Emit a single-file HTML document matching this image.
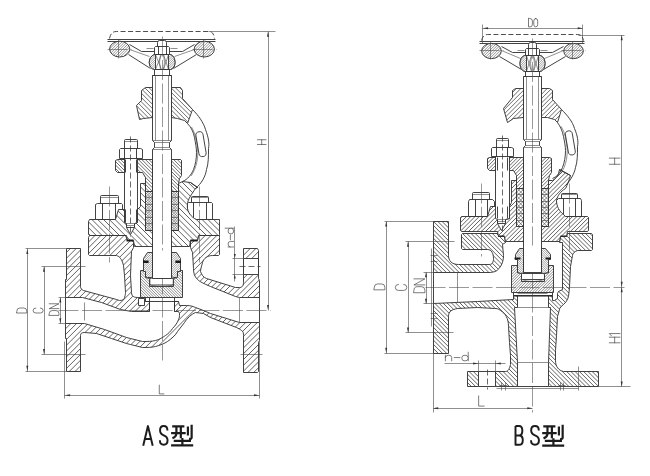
<!DOCTYPE html><html><head><meta charset="utf-8"><title>AS / BS valve drawing</title><style>
html,body{margin:0;padding:0;background:#fff;}
svg{display:block;font-family:"Liberation Sans",sans-serif;}
.l{fill:none;stroke:#2e2e2e;stroke-width:.9;stroke-linejoin:round;}
.lw{fill:#fff;stroke:#2e2e2e;stroke-width:.9;stroke-linejoin:round;}
.t{fill:none;stroke:#444;stroke-width:.6;}
.thk{fill:none;stroke:#2e2e2e;stroke-width:1.3;}
.c{fill:none;stroke:#444;stroke-width:.55;stroke-dasharray:20 3.5;}
.c2{fill:none;stroke:#3a3a3a;stroke-width:.75;stroke-dasharray:6 3;}
.d{fill:none;stroke:#444;stroke-width:.6;}
.ar{fill:#333;stroke:none;}
.dash{fill:none;stroke:#2e2e2e;stroke-width:.85;stroke-dasharray:5 2.5;}
.ha{fill:url(#pa);stroke:#2e2e2e;stroke-width:.85;stroke-linejoin:round;}
.hb{fill:url(#pb);stroke:#2e2e2e;stroke-width:.85;stroke-linejoin:round;}
.hga{fill:url(#pga);stroke:#2e2e2e;stroke-width:.85;stroke-linejoin:round;}
.hgb{fill:url(#pgb);stroke:#2e2e2e;stroke-width:.85;stroke-linejoin:round;}
.hma{fill:url(#pma);stroke:#2e2e2e;stroke-width:.85;stroke-linejoin:round;}
.hmb{fill:url(#pmb);stroke:#2e2e2e;stroke-width:.85;stroke-linejoin:round;}
.hx{fill:url(#px);stroke:#2e2e2e;stroke-width:.85;}
.hd{fill:url(#pd);stroke:#2e2e2e;stroke-width:.85;stroke-linejoin:round;}
.hd2{fill:url(#pd2);stroke:#2e2e2e;stroke-width:.85;stroke-linejoin:round;}
.blk{fill:#1a1a1a;stroke:none;}
.gt{fill:none;stroke:#444;stroke-width:.7;stroke-linejoin:round;stroke-linecap:round;}
.big{fill:none;stroke:#1c1c1c;stroke-width:1.95;stroke-linejoin:round;stroke-linecap:butt;}
.big2{fill:none;stroke:#1c1c1c;stroke-width:2.2;stroke-linejoin:round;stroke-linecap:butt;}
</style></head><body><svg width="650" height="476" viewBox="0 0 650 476"><defs><pattern id="pa" width="4" height="4" patternUnits="userSpaceOnUse" patternTransform="rotate(45)"><rect width="4" height="4" fill="#fff"/><line x1="0" y1="2.0" x2="4" y2="2.0" stroke="#383838" stroke-width="0.65"/></pattern><pattern id="pb" width="4" height="4" patternUnits="userSpaceOnUse" patternTransform="rotate(-45)"><rect width="4" height="4" fill="#fff"/><line x1="0" y1="2.0" x2="4" y2="2.0" stroke="#383838" stroke-width="0.65"/></pattern><pattern id="pga" width="2.6" height="2.6" patternUnits="userSpaceOnUse" patternTransform="rotate(45)"><rect width="2.6" height="2.6" fill="#fff"/><line x1="0" y1="1.3" x2="2.6" y2="1.3" stroke="#383838" stroke-width="0.65"/></pattern><pattern id="pgb" width="2.6" height="2.6" patternUnits="userSpaceOnUse" patternTransform="rotate(-45)"><rect width="2.6" height="2.6" fill="#fff"/><line x1="0" y1="1.3" x2="2.6" y2="1.3" stroke="#383838" stroke-width="0.65"/></pattern><pattern id="pma" width="1.9" height="1.9" patternUnits="userSpaceOnUse" patternTransform="rotate(45)"><rect width="1.9" height="1.9" fill="#fff"/><line x1="0" y1="0.95" x2="1.9" y2="0.95" stroke="#383838" stroke-width="0.55"/></pattern><pattern id="pmb" width="1.9" height="1.9" patternUnits="userSpaceOnUse" patternTransform="rotate(-45)"><rect width="1.9" height="1.9" fill="#fff"/><line x1="0" y1="0.95" x2="1.9" y2="0.95" stroke="#383838" stroke-width="0.55"/></pattern><pattern id="pd" width="1.5" height="1.5" patternUnits="userSpaceOnUse" patternTransform="rotate(45)"><rect width="1.5" height="1.5" fill="#fff"/><line x1="0" y1="0.75" x2="1.5" y2="0.75" stroke="#383838" stroke-width="0.5"/></pattern><pattern id="pd2" width="1.5" height="1.5" patternUnits="userSpaceOnUse" patternTransform="rotate(-45)"><rect width="1.5" height="1.5" fill="#fff"/><line x1="0" y1="0.75" x2="1.5" y2="0.75" stroke="#383838" stroke-width="0.5"/></pattern><pattern id="px" width="2.2" height="2.2" patternUnits="userSpaceOnUse" patternTransform="rotate(45)"><rect width="2.2" height="2.2" fill="#fff"/><path d="M0 1.1 L2.2 1.1 M1.1 0 L1.1 2.2" stroke="#333" stroke-width=".6"/></pattern></defs><rect width="650" height="476" fill="#fff"/><g id="left">
<clipPath id="c1"><path d="M 66.50 248.50 L 80.50 248.50 L 80.50 286.50 C 80.50 288.50 81.50 289.50 83.50 290.50 L 116.50 299.50 L 119.50 300.50 C 122.50 300.50 124.50 299.50 124.50 297.50 C 125.50 294.50 125.50 293.50 125.50 292.50 L 124.50 275.50 L 123.50 265.50 C 122.50 261.50 121.50 259.50 120.50 258.50 C 119.50 256.50 118.50 256.50 116.50 255.50 L 89.50 255.50 L 88.50 254.50 L 88.50 237.50 L 89.50 235.50 L 125.50 235.50 L 127.50 240.50 L 132.50 240.50 L 133.50 242.50 L 133.50 247.50 L 131.50 251.50 L 130.50 275.50 L 131.50 292.50 C 131.50 294.50 132.50 296.50 133.50 296.50 C 134.50 297.50 136.50 297.50 140.50 297.50 L 145.50 297.50 L 145.50 301.50 L 149.50 301.50 L 149.50 311.50 L 131.50 311.50 L 120.50 309.50 L 101.50 302.50 L 82.50 297.50 L 65.50 297.50 L 65.50 279.50 L 66.50 279.50 Z"/></clipPath><path d="M 66.50 248.50 L 80.50 248.50 L 80.50 286.50 C 80.50 288.50 81.50 289.50 83.50 290.50 L 116.50 299.50 L 119.50 300.50 C 122.50 300.50 124.50 299.50 124.50 297.50 C 125.50 294.50 125.50 293.50 125.50 292.50 L 124.50 275.50 L 123.50 265.50 C 122.50 261.50 121.50 259.50 120.50 258.50 C 119.50 256.50 118.50 256.50 116.50 255.50 L 89.50 255.50 L 88.50 254.50 L 88.50 237.50 L 89.50 235.50 L 125.50 235.50 L 127.50 240.50 L 132.50 240.50 L 133.50 242.50 L 133.50 247.50 L 131.50 251.50 L 130.50 275.50 L 131.50 292.50 C 131.50 294.50 132.50 296.50 133.50 296.50 C 134.50 297.50 136.50 297.50 140.50 297.50 L 145.50 297.50 L 145.50 301.50 L 149.50 301.50 L 149.50 311.50 L 131.50 311.50 L 120.50 309.50 L 101.50 302.50 L 82.50 297.50 L 65.50 297.50 L 65.50 279.50 L 66.50 279.50 Z" fill="#fff"/><path clip-path="url(#c1)" d="M64.5 231.2 L150.5 145.2 M64.5 237.0 L150.5 151.0 M64.5 242.8 L150.5 156.8 M64.5 248.6 L150.5 162.6 M64.5 254.4 L150.5 168.4 M64.5 260.2 L150.5 174.2 M64.5 266.0 L150.5 180.0 M64.5 271.8 L150.5 185.8 M64.5 277.6 L150.5 191.6 M64.5 283.4 L150.5 197.4 M64.5 289.2 L150.5 203.2 M64.5 295.0 L150.5 209.0 M64.5 300.8 L150.5 214.8 M64.5 306.6 L150.5 220.6 M64.5 312.4 L150.5 226.4 M64.5 318.2 L150.5 232.2 M64.5 324.0 L150.5 238.0 M64.5 329.8 L150.5 243.8 M64.5 335.6 L150.5 249.6 M64.5 341.4 L150.5 255.4 M64.5 347.2 L150.5 261.2 M64.5 353.0 L150.5 267.0 M64.5 358.8 L150.5 272.8 M64.5 364.6 L150.5 278.6 M64.5 370.4 L150.5 284.4 M64.5 376.2 L150.5 290.2 M64.5 382.0 L150.5 296.0 M64.5 387.8 L150.5 301.8 M64.5 393.6 L150.5 307.6" fill="none" stroke="#2e2e2e" stroke-width="0.75"/><path class="l" d="M 66.50 248.50 L 80.50 248.50 L 80.50 286.50 C 80.50 288.50 81.50 289.50 83.50 290.50 L 116.50 299.50 L 119.50 300.50 C 122.50 300.50 124.50 299.50 124.50 297.50 C 125.50 294.50 125.50 293.50 125.50 292.50 L 124.50 275.50 L 123.50 265.50 C 122.50 261.50 121.50 259.50 120.50 258.50 C 119.50 256.50 118.50 256.50 116.50 255.50 L 89.50 255.50 L 88.50 254.50 L 88.50 237.50 L 89.50 235.50 L 125.50 235.50 L 127.50 240.50 L 132.50 240.50 L 133.50 242.50 L 133.50 247.50 L 131.50 251.50 L 130.50 275.50 L 131.50 292.50 C 131.50 294.50 132.50 296.50 133.50 296.50 C 134.50 297.50 136.50 297.50 140.50 297.50 L 145.50 297.50 L 145.50 301.50 L 149.50 301.50 L 149.50 311.50 L 131.50 311.50 L 120.50 309.50 L 101.50 302.50 L 82.50 297.50 L 65.50 297.50 L 65.50 279.50 L 66.50 279.50 Z"/>
<clipPath id="c2"><path d="M 190.50 240.50 L 197.50 240.50 L 198.50 235.50 L 219.50 235.50 L 219.50 237.50 L 219.50 254.50 L 218.50 255.50 L 212.50 255.50 C 207.50 255.50 203.50 258.50 202.50 262.50 C 201.50 266.50 200.50 269.50 200.50 271.50 C 201.50 274.50 203.50 277.50 206.50 278.50 L 235.50 287.50 L 239.50 287.50 C 241.50 287.50 243.50 286.50 243.50 282.50 L 243.50 248.50 L 257.50 248.50 L 258.50 250.50 L 258.50 278.50 L 259.50 280.50 L 259.50 297.50 L 239.50 297.50 L 235.50 296.50 L 210.50 286.50 C 203.50 283.50 199.50 281.50 197.50 279.50 C 194.50 276.50 193.50 273.50 193.50 268.50 L 192.50 252.50 L 190.50 247.50 Z"/></clipPath><path d="M 190.50 240.50 L 197.50 240.50 L 198.50 235.50 L 219.50 235.50 L 219.50 237.50 L 219.50 254.50 L 218.50 255.50 L 212.50 255.50 C 207.50 255.50 203.50 258.50 202.50 262.50 C 201.50 266.50 200.50 269.50 200.50 271.50 C 201.50 274.50 203.50 277.50 206.50 278.50 L 235.50 287.50 L 239.50 287.50 C 241.50 287.50 243.50 286.50 243.50 282.50 L 243.50 248.50 L 257.50 248.50 L 258.50 250.50 L 258.50 278.50 L 259.50 280.50 L 259.50 297.50 L 239.50 297.50 L 235.50 296.50 L 210.50 286.50 C 203.50 283.50 199.50 281.50 197.50 279.50 C 194.50 276.50 193.50 273.50 193.50 268.50 L 192.50 252.50 L 190.50 247.50 Z" fill="#fff"/><path clip-path="url(#c2)" d="M189.5 233.8 L260.5 162.8 M189.5 239.6 L260.5 168.6 M189.5 245.4 L260.5 174.4 M189.5 251.2 L260.5 180.2 M189.5 257.0 L260.5 186.0 M189.5 262.8 L260.5 191.8 M189.5 268.6 L260.5 197.6 M189.5 274.4 L260.5 203.4 M189.5 280.2 L260.5 209.2 M189.5 286.0 L260.5 215.0 M189.5 291.8 L260.5 220.8 M189.5 297.6 L260.5 226.6 M189.5 303.4 L260.5 232.4 M189.5 309.2 L260.5 238.2 M189.5 314.9 L260.5 243.9 M189.5 320.7 L260.5 249.7 M189.5 326.5 L260.5 255.5 M189.5 332.3 L260.5 261.3 M189.5 338.1 L260.5 267.1 M189.5 343.9 L260.5 272.9 M189.5 349.7 L260.5 278.7 M189.5 355.5 L260.5 284.5 M189.5 361.3 L260.5 290.3 M189.5 367.1 L260.5 296.1" fill="none" stroke="#2e2e2e" stroke-width="0.75"/><path class="l" d="M 190.50 240.50 L 197.50 240.50 L 198.50 235.50 L 219.50 235.50 L 219.50 237.50 L 219.50 254.50 L 218.50 255.50 L 212.50 255.50 C 207.50 255.50 203.50 258.50 202.50 262.50 C 201.50 266.50 200.50 269.50 200.50 271.50 C 201.50 274.50 203.50 277.50 206.50 278.50 L 235.50 287.50 L 239.50 287.50 C 241.50 287.50 243.50 286.50 243.50 282.50 L 243.50 248.50 L 257.50 248.50 L 258.50 250.50 L 258.50 278.50 L 259.50 280.50 L 259.50 297.50 L 239.50 297.50 L 235.50 296.50 L 210.50 286.50 C 203.50 283.50 199.50 281.50 197.50 279.50 C 194.50 276.50 193.50 273.50 193.50 268.50 L 192.50 252.50 L 190.50 247.50 Z"/>
<clipPath id="c3"><path d="M 65.50 323.50 L 84.50 323.50 L 104.50 329.50 L 126.50 337.50 L 130.50 338.50 C 134.50 339.50 138.50 340.50 142.50 341.50 C 147.50 341.50 151.50 341.50 155.50 340.50 C 159.50 339.50 162.50 337.50 165.50 335.50 C 168.50 333.50 170.50 331.50 172.50 328.50 C 175.50 325.50 177.50 322.50 178.50 319.50 C 179.50 317.50 179.50 316.50 179.50 313.50 L 178.50 311.50 L 174.50 311.50 L 174.50 301.50 L 178.50 301.50 L 179.50 305.50 L 186.50 305.50 C 190.50 305.50 193.50 306.50 195.50 307.50 L 203.50 310.50 L 210.50 313.50 L 239.50 322.50 L 259.50 322.50 L 259.50 340.50 L 258.50 342.50 L 258.50 371.50 L 257.50 372.50 L 243.50 372.50 L 243.50 335.50 C 243.50 333.50 243.50 331.50 241.50 330.50 C 240.50 329.50 238.50 328.50 236.50 327.50 L 210.50 317.50 L 203.50 313.50 C 200.50 313.50 198.50 312.50 195.50 312.50 C 193.50 313.50 191.50 314.50 189.50 316.50 C 187.50 318.50 185.50 320.50 184.50 322.50 L 177.50 331.50 C 175.50 335.50 171.50 338.50 167.50 341.50 C 164.50 343.50 159.50 345.50 155.50 346.50 C 151.50 347.50 147.50 347.50 142.50 347.50 C 138.50 346.50 134.50 345.50 130.50 344.50 L 126.50 343.50 L 111.50 338.50 L 96.50 333.50 L 84.50 332.50 C 81.50 332.50 80.50 333.50 80.50 335.50 L 80.50 371.50 L 66.50 371.50 L 66.50 338.50 L 65.50 338.50 Z"/></clipPath><path d="M 65.50 323.50 L 84.50 323.50 L 104.50 329.50 L 126.50 337.50 L 130.50 338.50 C 134.50 339.50 138.50 340.50 142.50 341.50 C 147.50 341.50 151.50 341.50 155.50 340.50 C 159.50 339.50 162.50 337.50 165.50 335.50 C 168.50 333.50 170.50 331.50 172.50 328.50 C 175.50 325.50 177.50 322.50 178.50 319.50 C 179.50 317.50 179.50 316.50 179.50 313.50 L 178.50 311.50 L 174.50 311.50 L 174.50 301.50 L 178.50 301.50 L 179.50 305.50 L 186.50 305.50 C 190.50 305.50 193.50 306.50 195.50 307.50 L 203.50 310.50 L 210.50 313.50 L 239.50 322.50 L 259.50 322.50 L 259.50 340.50 L 258.50 342.50 L 258.50 371.50 L 257.50 372.50 L 243.50 372.50 L 243.50 335.50 C 243.50 333.50 243.50 331.50 241.50 330.50 C 240.50 329.50 238.50 328.50 236.50 327.50 L 210.50 317.50 L 203.50 313.50 C 200.50 313.50 198.50 312.50 195.50 312.50 C 193.50 313.50 191.50 314.50 189.50 316.50 C 187.50 318.50 185.50 320.50 184.50 322.50 L 177.50 331.50 C 175.50 335.50 171.50 338.50 167.50 341.50 C 164.50 343.50 159.50 345.50 155.50 346.50 C 151.50 347.50 147.50 347.50 142.50 347.50 C 138.50 346.50 134.50 345.50 130.50 344.50 L 126.50 343.50 L 111.50 338.50 L 96.50 333.50 L 84.50 332.50 C 81.50 332.50 80.50 333.50 80.50 335.50 L 80.50 371.50 L 66.50 371.50 L 66.50 338.50 L 65.50 338.50 Z" fill="#fff"/><path clip-path="url(#c3)" d="M64.5 295.0 L260.5 99.0 M64.5 300.8 L260.5 104.8 M64.5 306.6 L260.5 110.6 M64.5 312.4 L260.5 116.4 M64.5 318.2 L260.5 122.2 M64.5 324.0 L260.5 128.0 M64.5 329.8 L260.5 133.8 M64.5 335.6 L260.5 139.6 M64.5 341.4 L260.5 145.4 M64.5 347.2 L260.5 151.2 M64.5 353.0 L260.5 157.0 M64.5 358.8 L260.5 162.8 M64.5 364.6 L260.5 168.6 M64.5 370.4 L260.5 174.4 M64.5 376.2 L260.5 180.2 M64.5 382.0 L260.5 186.0 M64.5 387.8 L260.5 191.8 M64.5 393.6 L260.5 197.6 M64.5 399.4 L260.5 203.4 M64.5 405.2 L260.5 209.2 M64.5 411.0 L260.5 215.0 M64.5 416.8 L260.5 220.8 M64.5 422.6 L260.5 226.6 M64.5 428.4 L260.5 232.4 M64.5 434.2 L260.5 238.2 M64.5 439.9 L260.5 243.9 M64.5 445.7 L260.5 249.7 M64.5 451.5 L260.5 255.5 M64.5 457.3 L260.5 261.3 M64.5 463.1 L260.5 267.1 M64.5 468.9 L260.5 272.9 M64.5 474.7 L260.5 278.7 M64.5 480.5 L260.5 284.5 M64.5 486.3 L260.5 290.3 M64.5 492.1 L260.5 296.1 M64.5 497.9 L260.5 301.9 M64.5 503.7 L260.5 307.7 M64.5 509.5 L260.5 313.5 M64.5 515.3 L260.5 319.3 M64.5 521.1 L260.5 325.1 M64.5 526.9 L260.5 330.9 M64.5 532.7 L260.5 336.7 M64.5 538.5 L260.5 342.5 M64.5 544.3 L260.5 348.3 M64.5 550.1 L260.5 354.1 M64.5 555.9 L260.5 359.9 M64.5 561.7 L260.5 365.7 M64.5 567.5 L260.5 371.5" fill="none" stroke="#2e2e2e" stroke-width="0.75"/><path class="l" d="M 65.50 323.50 L 84.50 323.50 L 104.50 329.50 L 126.50 337.50 L 130.50 338.50 C 134.50 339.50 138.50 340.50 142.50 341.50 C 147.50 341.50 151.50 341.50 155.50 340.50 C 159.50 339.50 162.50 337.50 165.50 335.50 C 168.50 333.50 170.50 331.50 172.50 328.50 C 175.50 325.50 177.50 322.50 178.50 319.50 C 179.50 317.50 179.50 316.50 179.50 313.50 L 178.50 311.50 L 174.50 311.50 L 174.50 301.50 L 178.50 301.50 L 179.50 305.50 L 186.50 305.50 C 190.50 305.50 193.50 306.50 195.50 307.50 L 203.50 310.50 L 210.50 313.50 L 239.50 322.50 L 259.50 322.50 L 259.50 340.50 L 258.50 342.50 L 258.50 371.50 L 257.50 372.50 L 243.50 372.50 L 243.50 335.50 C 243.50 333.50 243.50 331.50 241.50 330.50 C 240.50 329.50 238.50 328.50 236.50 327.50 L 210.50 317.50 L 203.50 313.50 C 200.50 313.50 198.50 312.50 195.50 312.50 C 193.50 313.50 191.50 314.50 189.50 316.50 C 187.50 318.50 185.50 320.50 184.50 322.50 L 177.50 331.50 C 175.50 335.50 171.50 338.50 167.50 341.50 C 164.50 343.50 159.50 345.50 155.50 346.50 C 151.50 347.50 147.50 347.50 142.50 347.50 C 138.50 346.50 134.50 345.50 130.50 344.50 L 126.50 343.50 L 111.50 338.50 L 96.50 333.50 L 84.50 332.50 C 81.50 332.50 80.50 333.50 80.50 335.50 L 80.50 371.50 L 66.50 371.50 L 66.50 338.50 L 65.50 338.50 Z"/>
<path class="lw" d="M 138.50 298.50 L 144.50 298.50 L 144.50 305.50 L 138.50 305.50 Z" />
<path class="lw" d="M 243.50 258.50 L 258.50 258.50 L 258.50 274.50 L 243.50 274.50 Z" />
<path class="l" d="M 145.50 301.50 L 178.50 301.50" />
<path class="l" d="M 149.50 297.50 L 149.50 311.50" />
<path class="l" d="M 174.50 297.50 L 174.50 311.50" />
<path class="l" d="M 65.50 297.50 L 65.50 323.50" />
<path class="l" d="M 259.50 297.50 L 259.50 322.50" />
<path class="t" d="M 84.50 302.50 L 84.50 320.50" />
<path class="t" d="M 239.50 297.50 L 239.50 322.50" />
<clipPath id="c4"><path d="M 140.50 270.50 L 145.50 270.50 L 145.50 277.50 L 149.50 278.50 L 149.50 286.50 L 173.50 286.50 L 173.50 278.50 L 177.50 277.50 L 177.50 270.50 L 182.50 270.50 L 182.50 297.50 L 140.50 297.50 Z"/></clipPath><path d="M 140.50 270.50 L 145.50 270.50 L 145.50 277.50 L 149.50 278.50 L 149.50 286.50 L 173.50 286.50 L 173.50 278.50 L 177.50 277.50 L 177.50 270.50 L 182.50 270.50 L 182.50 297.50 L 140.50 297.50 Z" fill="#fff"/><path clip-path="url(#c4)" d="M139.5 225.0 L183.5 269.0 M139.5 227.7 L183.5 271.7 M139.5 230.5 L183.5 274.5 M139.5 233.3 L183.5 277.3 M139.5 236.0 L183.5 280.0 M139.5 238.8 L183.5 282.8 M139.5 241.5 L183.5 285.5 M139.5 244.3 L183.5 288.3 M139.5 247.1 L183.5 291.1 M139.5 249.8 L183.5 293.8 M139.5 252.6 L183.5 296.6 M139.5 255.3 L183.5 299.3 M139.5 258.1 L183.5 302.1 M139.5 260.8 L183.5 304.8 M139.5 263.6 L183.5 307.6 M139.5 266.4 L183.5 310.4 M139.5 269.1 L183.5 313.1 M139.5 271.9 L183.5 315.9 M139.5 274.6 L183.5 318.6 M139.5 277.4 L183.5 321.4 M139.5 280.1 L183.5 324.1 M139.5 282.9 L183.5 326.9 M139.5 285.7 L183.5 329.7 M139.5 288.4 L183.5 332.4 M139.5 291.2 L183.5 335.2 M139.5 293.9 L183.5 337.9 M139.5 296.7 L183.5 340.7" fill="none" stroke="#2e2e2e" stroke-width="0.55"/><path class="l" d="M 140.50 270.50 L 145.50 270.50 L 145.50 277.50 L 149.50 278.50 L 149.50 286.50 L 173.50 286.50 L 173.50 278.50 L 177.50 277.50 L 177.50 270.50 L 182.50 270.50 L 182.50 297.50 L 140.50 297.50 Z"/>
<clipPath id="c5"><path d="M 147.50 252.50 L 152.50 252.50 L 152.50 276.50 L 151.50 277.50 L 147.50 277.50 L 145.50 276.50 L 145.50 271.50 L 143.50 271.50 L 143.50 258.50 Z"/></clipPath><path d="M 147.50 252.50 L 152.50 252.50 L 152.50 276.50 L 151.50 277.50 L 147.50 277.50 L 145.50 276.50 L 145.50 271.50 L 143.50 271.50 L 143.50 258.50 Z" fill="#fff"/><path clip-path="url(#c5)" d="M142.5 251.2 L153.5 240.2 M142.5 253.5 L153.5 242.5 M142.5 255.7 L153.5 244.7 M142.5 258.0 L153.5 247.0 M142.5 260.3 L153.5 249.3 M142.5 262.5 L153.5 251.5 M142.5 264.8 L153.5 253.8 M142.5 267.1 L153.5 256.1 M142.5 269.3 L153.5 258.3 M142.5 271.6 L153.5 260.6 M142.5 273.8 L153.5 262.8 M142.5 276.1 L153.5 265.1 M142.5 278.4 L153.5 267.4 M142.5 280.6 L153.5 269.6 M142.5 282.9 L153.5 271.9 M142.5 285.2 L153.5 274.2 M142.5 287.4 L153.5 276.4" fill="none" stroke="#2e2e2e" stroke-width="0.45"/><path class="l" d="M 147.50 252.50 L 152.50 252.50 L 152.50 276.50 L 151.50 277.50 L 147.50 277.50 L 145.50 276.50 L 145.50 271.50 L 143.50 271.50 L 143.50 258.50 Z"/>
<clipPath id="c6"><path d="M 176.50 252.50 L 171.50 252.50 L 171.50 276.50 L 173.50 277.50 L 176.50 277.50 L 177.50 276.50 L 177.50 271.50 L 180.50 271.50 L 180.50 258.50 Z"/></clipPath><path d="M 176.50 252.50 L 171.50 252.50 L 171.50 276.50 L 173.50 277.50 L 176.50 277.50 L 177.50 276.50 L 177.50 271.50 L 180.50 271.50 L 180.50 258.50 Z" fill="#fff"/><path clip-path="url(#c6)" d="M170.5 250.4 L181.5 239.4 M170.5 252.6 L181.5 241.6 M170.5 254.9 L181.5 243.9 M170.5 257.2 L181.5 246.2 M170.5 259.4 L181.5 248.4 M170.5 261.7 L181.5 250.7 M170.5 263.9 L181.5 252.9 M170.5 266.2 L181.5 255.2 M170.5 268.5 L181.5 257.5 M170.5 270.7 L181.5 259.7 M170.5 273.0 L181.5 262.0 M170.5 275.3 L181.5 264.3 M170.5 277.5 L181.5 266.5 M170.5 279.8 L181.5 268.8 M170.5 282.0 L181.5 271.0 M170.5 284.3 L181.5 273.3 M170.5 286.6 L181.5 275.6 M170.5 288.8 L181.5 277.8" fill="none" stroke="#2e2e2e" stroke-width="0.45"/><path class="l" d="M 176.50 252.50 L 171.50 252.50 L 171.50 276.50 L 173.50 277.50 L 176.50 277.50 L 177.50 276.50 L 177.50 271.50 L 180.50 271.50 L 180.50 258.50 Z"/>
<path class="blk" d="M143 260.6 L148.6 260.6 L148.6 263 L143 263 Z M175.4 260.6 L181 260.6 L181 263 L175.4 263 Z" />
<path class="lw" d="M151.2 278.2 L171.9 278.2 Q173.3 278.2 173.3 279.5 L173.3 283.6 Q173.3 285 171.9 285 L151.2 285 Q149.8 285 149.8 283.6 L149.8 279.5 Q149.8 278.2 151.2 278.2 Z" />
<path class="t" d="M149.8 285 Q162 288.2 173.3 285" />
<path class="c" d="M 162.50 250.50 L 162.50 360.50" />
<path class="c" d="M 58.50 310.50 L 270.50 310.50" />
<path class="lw" d="M 100.50 203.50 L 100.50 196.50 Q 100.50 195.50 101.50 195.50 L 117.50 195.50 Q 118.50 195.50 118.50 196.50 L 118.50 203.50" />
<path class="t" d="M 100.50 197.50 L 118.50 197.50" />
<path class="lw" d="M 95.50 219.50 L 95.50 204.50 L 97.50 203.50 L 121.50 203.50 L 122.50 204.50 L 122.50 219.50 Z" />
<path class="l" d="M 102.50 203.50 L 102.50 219.50" />
<path class="l" d="M 115.50 203.50 L 115.50 219.50" />
<path class="lw" d="M 191.50 202.50 L 191.50 197.50 Q 191.50 196.50 192.50 196.50 L 207.50 196.50 Q 208.50 196.50 208.50 197.50 L 208.50 202.50" />
<path class="t" d="M 191.50 197.50 L 208.50 197.50" />
<path class="lw" d="M 187.50 219.50 L 187.50 203.50 L 188.50 202.50 L 211.50 202.50 L 212.50 203.50 L 212.50 219.50 Z" />
<path class="l" d="M 193.50 202.50 L 193.50 219.50" />
<path class="l" d="M 206.50 202.50 L 206.50 219.50" />
<clipPath id="c7"><path d="M 88.50 221.50 L 89.50 219.50 L 115.50 219.50 L 118.50 209.50 L 137.50 209.50 L 140.50 206.50 L 140.50 183.50 L 145.50 183.50 L 145.50 230.50 L 178.50 230.50 L 178.50 183.50 L 182.50 181.50 L 190.50 182.50 L 197.50 187.50 L 195.50 188.50 C 191.50 194.50 187.50 199.50 187.50 204.50 C 186.50 209.50 189.50 215.50 194.50 218.50 L 196.50 219.50 L 219.50 219.50 L 219.50 221.50 L 219.50 234.50 L 219.50 235.50 L 198.50 235.50 L 197.50 240.50 L 190.50 240.50 L 189.50 246.50 L 134.50 246.50 L 133.50 240.50 L 127.50 240.50 L 126.50 235.50 L 89.50 235.50 L 88.50 234.50 Z"/></clipPath><path d="M 88.50 221.50 L 89.50 219.50 L 115.50 219.50 L 118.50 209.50 L 137.50 209.50 L 140.50 206.50 L 140.50 183.50 L 145.50 183.50 L 145.50 230.50 L 178.50 230.50 L 178.50 183.50 L 182.50 181.50 L 190.50 182.50 L 197.50 187.50 L 195.50 188.50 C 191.50 194.50 187.50 199.50 187.50 204.50 C 186.50 209.50 189.50 215.50 194.50 218.50 L 196.50 219.50 L 219.50 219.50 L 219.50 221.50 L 219.50 234.50 L 219.50 235.50 L 198.50 235.50 L 197.50 240.50 L 190.50 240.50 L 189.50 246.50 L 134.50 246.50 L 133.50 240.50 L 127.50 240.50 L 126.50 235.50 L 89.50 235.50 L 88.50 234.50 Z" fill="#fff"/><path clip-path="url(#c7)" d="M87.5 46.9 L220.5 179.9 M87.5 52.7 L220.5 185.7 M87.5 58.5 L220.5 191.5 M87.5 64.3 L220.5 197.3 M87.5 70.1 L220.5 203.1 M87.5 75.9 L220.5 208.9 M87.5 81.7 L220.5 214.7 M87.5 87.5 L220.5 220.5 M87.5 93.3 L220.5 226.3 M87.5 99.1 L220.5 232.1 M87.5 104.9 L220.5 237.9 M87.5 110.7 L220.5 243.7 M87.5 116.5 L220.5 249.5 M87.5 122.3 L220.5 255.3 M87.5 128.1 L220.5 261.1 M87.5 133.9 L220.5 266.9 M87.5 139.7 L220.5 272.7 M87.5 145.5 L220.5 278.5 M87.5 151.3 L220.5 284.3 M87.5 157.1 L220.5 290.1 M87.5 162.9 L220.5 295.9 M87.5 168.7 L220.5 301.7 M87.5 174.5 L220.5 307.5 M87.5 180.3 L220.5 313.3 M87.5 186.1 L220.5 319.1 M87.5 191.9 L220.5 324.9 M87.5 197.7 L220.5 330.7 M87.5 203.5 L220.5 336.5 M87.5 209.3 L220.5 342.3 M87.5 215.1 L220.5 348.1 M87.5 220.9 L220.5 353.9 M87.5 226.7 L220.5 359.7 M87.5 232.5 L220.5 365.5 M87.5 238.3 L220.5 371.3 M87.5 244.1 L220.5 377.1" fill="none" stroke="#2e2e2e" stroke-width="0.75"/><path class="l" d="M 88.50 221.50 L 89.50 219.50 L 115.50 219.50 L 118.50 209.50 L 137.50 209.50 L 140.50 206.50 L 140.50 183.50 L 145.50 183.50 L 145.50 230.50 L 178.50 230.50 L 178.50 183.50 L 182.50 181.50 L 190.50 182.50 L 197.50 187.50 L 195.50 188.50 C 191.50 194.50 187.50 199.50 187.50 204.50 C 186.50 209.50 189.50 215.50 194.50 218.50 L 196.50 219.50 L 219.50 219.50 L 219.50 221.50 L 219.50 234.50 L 219.50 235.50 L 198.50 235.50 L 197.50 240.50 L 190.50 240.50 L 189.50 246.50 L 134.50 246.50 L 133.50 240.50 L 127.50 240.50 L 126.50 235.50 L 89.50 235.50 L 88.50 234.50 Z"/>
<path class="blk" d="M 126.50 239.50 L 133.50 239.50 L 133.50 241.50 L 126.50 241.50 Z M 190.50 239.50 L 197.50 239.50 L 197.50 241.50 L 190.50 241.50 Z" />
<path class="lw" d="M 124.50 209.50 L 124.50 222.50 L 126.50 223.50 L 126.50 227.50 L 130.50 234.50 L 134.50 227.50 L 134.50 223.50 L 137.50 222.50 L 137.50 209.50 Z" />
<clipPath id="c8"><path d="M 145.50 191.50 L 153.50 191.50 L 153.50 230.50 L 145.50 230.50 Z"/></clipPath><path d="M 145.50 191.50 L 153.50 191.50 L 153.50 230.50 L 145.50 230.50 Z" fill="#fff"/><path clip-path="url(#c8)" d="M144.5 190.4 L154.5 180.4 M144.5 193.0 L154.5 183.0 M144.5 195.6 L154.5 185.6 M144.5 198.2 L154.5 188.2 M144.5 200.9 L154.5 190.9 M144.5 203.5 L154.5 193.5 M144.5 206.1 L154.5 196.1 M144.5 208.7 L154.5 198.7 M144.5 211.3 L154.5 201.3 M144.5 213.9 L154.5 203.9 M144.5 216.5 L154.5 206.5 M144.5 219.2 L154.5 209.2 M144.5 221.8 L154.5 211.8 M144.5 224.4 L154.5 214.4 M144.5 227.0 L154.5 217.0 M144.5 229.6 L154.5 219.6 M144.5 232.2 L154.5 222.2 M144.5 234.9 L154.5 224.9 M144.5 237.5 L154.5 227.5 M144.5 240.1 L154.5 230.1 M144.5 178.5 L154.5 188.5 M144.5 181.1 L154.5 191.1 M144.5 183.7 L154.5 193.7 M144.5 186.4 L154.5 196.4 M144.5 189.0 L154.5 199.0 M144.5 191.6 L154.5 201.6 M144.5 194.2 L154.5 204.2 M144.5 196.8 L154.5 206.8 M144.5 199.4 L154.5 209.4 M144.5 202.1 L154.5 212.1 M144.5 204.7 L154.5 214.7 M144.5 207.3 L154.5 217.3 M144.5 209.9 L154.5 219.9 M144.5 212.5 L154.5 222.5 M144.5 215.1 L154.5 225.1 M144.5 217.8 L154.5 227.8 M144.5 220.4 L154.5 230.4 M144.5 223.0 L154.5 233.0 M144.5 225.6 L154.5 235.6 M144.5 228.2 L154.5 238.2 M144.5 230.8 L154.5 240.8" fill="none" stroke="#2e2e2e" stroke-width="0.42"/><path class="l" d="M 145.50 191.50 L 153.50 191.50 L 153.50 230.50 L 145.50 230.50 Z"/>
<clipPath id="c9"><path d="M 171.50 191.50 L 178.50 191.50 L 178.50 230.50 L 171.50 230.50 Z"/></clipPath><path d="M 171.50 191.50 L 178.50 191.50 L 178.50 230.50 L 171.50 230.50 Z" fill="#fff"/><path clip-path="url(#c9)" d="M170.5 187.9 L179.5 178.9 M170.5 190.5 L179.5 181.5 M170.5 193.2 L179.5 184.2 M170.5 195.8 L179.5 186.8 M170.5 198.4 L179.5 189.4 M170.5 201.0 L179.5 192.0 M170.5 203.6 L179.5 194.6 M170.5 206.2 L179.5 197.2 M170.5 208.9 L179.5 199.9 M170.5 211.5 L179.5 202.5 M170.5 214.1 L179.5 205.1 M170.5 216.7 L179.5 207.7 M170.5 219.3 L179.5 210.3 M170.5 221.9 L179.5 212.9 M170.5 224.6 L179.5 215.6 M170.5 227.2 L179.5 218.2 M170.5 229.8 L179.5 220.8 M170.5 232.4 L179.5 223.4 M170.5 235.0 L179.5 226.0 M170.5 237.6 L179.5 228.6 M170.5 240.3 L179.5 231.3 M170.5 181.0 L179.5 190.0 M170.5 183.6 L179.5 192.6 M170.5 186.2 L179.5 195.2 M170.5 188.8 L179.5 197.8 M170.5 191.4 L179.5 200.4 M170.5 194.0 L179.5 203.0 M170.5 196.7 L179.5 205.7 M170.5 199.3 L179.5 208.3 M170.5 201.9 L179.5 210.9 M170.5 204.5 L179.5 213.5 M170.5 207.1 L179.5 216.1 M170.5 209.7 L179.5 218.7 M170.5 212.4 L179.5 221.4 M170.5 215.0 L179.5 224.0 M170.5 217.6 L179.5 226.6 M170.5 220.2 L179.5 229.2 M170.5 222.8 L179.5 231.8 M170.5 225.4 L179.5 234.4 M170.5 228.1 L179.5 237.1 M170.5 230.7 L179.5 239.7" fill="none" stroke="#2e2e2e" stroke-width="0.42"/><path class="l" d="M 171.50 191.50 L 178.50 191.50 L 178.50 230.50 L 171.50 230.50 Z"/>
<path class="t" d="M 145.50 197.50 L 153.50 197.50" />
<path class="t" d="M 171.50 197.50 L 178.50 197.50" />
<path class="t" d="M 145.50 204.50 L 153.50 204.50" />
<path class="t" d="M 171.50 204.50 L 178.50 204.50" />
<path class="t" d="M 145.50 210.50 L 153.50 210.50" />
<path class="t" d="M 171.50 210.50 L 178.50 210.50" />
<path class="t" d="M 145.50 217.50 L 153.50 217.50" />
<path class="t" d="M 171.50 217.50 L 178.50 217.50" />
<path class="t" d="M 145.50 223.50 L 153.50 223.50" />
<path class="t" d="M 171.50 223.50 L 178.50 223.50" />
<clipPath id="c10"><path d="M 117.50 159.50 L 152.50 159.50 L 152.50 191.50 L 145.50 191.50 L 145.50 177.50 L 142.50 172.50 L 117.50 172.50 L 115.50 170.50 L 115.50 160.50 Z"/></clipPath><path d="M 117.50 159.50 L 152.50 159.50 L 152.50 191.50 L 145.50 191.50 L 145.50 177.50 L 142.50 172.50 L 117.50 172.50 L 115.50 170.50 L 115.50 160.50 Z" fill="#fff"/><path clip-path="url(#c10)" d="M114.5 118.0 L153.5 157.0 M114.5 121.6 L153.5 160.6 M114.5 125.1 L153.5 164.1 M114.5 128.6 L153.5 167.6 M114.5 132.2 L153.5 171.2 M114.5 135.7 L153.5 174.7 M114.5 139.2 L153.5 178.2 M114.5 142.8 L153.5 181.8 M114.5 146.3 L153.5 185.3 M114.5 149.9 L153.5 188.9 M114.5 153.4 L153.5 192.4 M114.5 156.9 L153.5 195.9 M114.5 160.5 L153.5 199.5 M114.5 164.0 L153.5 203.0 M114.5 167.5 L153.5 206.5 M114.5 171.1 L153.5 210.1 M114.5 174.6 L153.5 213.6 M114.5 178.1 L153.5 217.1 M114.5 181.7 L153.5 220.7 M114.5 185.2 L153.5 224.2 M114.5 188.7 L153.5 227.7 M114.5 192.3 L153.5 231.3" fill="none" stroke="#2e2e2e" stroke-width="0.7"/><path class="l" d="M 117.50 159.50 L 152.50 159.50 L 152.50 191.50 L 145.50 191.50 L 145.50 177.50 L 142.50 172.50 L 117.50 172.50 L 115.50 170.50 L 115.50 160.50 Z"/>
<clipPath id="c11"><path d="M 171.50 159.50 L 180.50 159.50 L 181.50 160.50 L 181.50 175.50 L 179.50 178.50 L 178.50 183.50 L 178.50 191.50 L 171.50 191.50 Z"/></clipPath><path d="M 171.50 159.50 L 180.50 159.50 L 181.50 160.50 L 181.50 175.50 L 179.50 178.50 L 178.50 183.50 L 178.50 191.50 L 171.50 191.50 Z" fill="#fff"/><path clip-path="url(#c11)" d="M170.5 145.8 L182.5 157.8 M170.5 149.3 L182.5 161.3 M170.5 152.8 L182.5 164.8 M170.5 156.4 L182.5 168.4 M170.5 159.9 L182.5 171.9 M170.5 163.4 L182.5 175.4 M170.5 167.0 L182.5 179.0 M170.5 170.5 L182.5 182.5 M170.5 174.0 L182.5 186.0 M170.5 177.6 L182.5 189.6 M170.5 181.1 L182.5 193.1 M170.5 184.6 L182.5 196.6 M170.5 188.2 L182.5 200.2 M170.5 191.7 L182.5 203.7" fill="none" stroke="#2e2e2e" stroke-width="0.7"/><path class="l" d="M 171.50 159.50 L 180.50 159.50 L 181.50 160.50 L 181.50 175.50 L 179.50 178.50 L 178.50 183.50 L 178.50 191.50 L 171.50 191.50 Z"/>
<path class="lw" d="M 124.50 140.50 Q 124.50 139.50 125.50 139.50 L 136.50 139.50 Q 137.50 139.50 137.50 140.50 L 137.50 148.50 L 137.50 148.50 L 137.50 222.50 L 134.50 223.50 L 134.50 227.50 L 126.50 227.50 L 126.50 223.50 L 124.50 222.50 L 124.50 148.50 L 124.50 148.50 Z" />
<path class="t" d="M 124.50 141.50 L 137.50 141.50" />
<path class="t" d="M 126.50 223.50 L 134.50 223.50" />
<path class="t" d="M 126.50 225.50 L 134.50 225.50" />
<path class="l" d="M 125.50 159.50 L 125.50 172.50" />
<path class="l" d="M 136.50 159.50 L 136.50 172.50" />
<path class="l" d="M 125.50 209.50 L 125.50 222.50" />
<path class="l" d="M 136.50 209.50 L 136.50 222.50" />
<path class="lw" d="M 119.50 158.50 L 119.50 149.50 L 120.50 148.50 L 140.50 148.50 L 142.50 149.50 L 142.50 158.50 Z" />
<path class="l" d="M 124.50 148.50 L 124.50 158.50" />
<path class="l" d="M 136.50 148.50 L 136.50 158.50" />
<path class="c2" d="M 130.50 136.50 L 130.50 236.50" />
<path class="c" d="M 109.50 186.50 L 109.50 262.50" />
<path class="c" d="M 199.50 186.50 L 199.50 262.50" />
<path class="l" d="M 192.50 109.50 C 198.50 115.50 203.50 122.50 205.50 129.50 C 208.50 137.50 209.50 143.50 208.50 148.50 C 208.50 156.50 208.50 163.50 206.50 169.50 C 205.50 176.50 201.50 183.50 195.50 188.50" />
<path class="l" d="M 187.50 123.50 C 191.50 127.50 193.50 132.50 194.50 137.50 C 195.50 143.50 196.50 147.50 196.50 152.50 C 196.50 158.50 195.50 164.50 193.50 169.50 C 191.50 174.50 187.50 179.50 182.50 181.50" />
<path class="l" d="M 190.50 182.50 L 197.50 187.50" />
<path class="t" d="M 191.50 127.00 C 193.50 130.50 195.00 134.00 195.70 137.80 C 196.80 143.00 197.80 147.50 197.80 152.50 C 197.80 158.50 196.80 164.00 194.60 169.50 C 193.50 172.00 192.30 174.00 191.00 176.00" />
<path class="l" d="M 195.95 135.90 A 3.60 3.60 0 0 1 203.05 134.70 L 206.05 152.40 A 3.60 3.60 0 0 1 198.95 153.60 Z" />
<clipPath id="c12"><path d="M 152.50 87.50 L 145.50 87.50 L 141.50 90.50 L 141.50 100.50 L 136.50 105.50 L 139.50 119.50 L 143.50 118.50 L 152.50 117.50 Z"/></clipPath><path d="M 152.50 87.50 L 145.50 87.50 L 141.50 90.50 L 141.50 100.50 L 136.50 105.50 L 139.50 119.50 L 143.50 118.50 L 152.50 117.50 Z" fill="#fff"/><path clip-path="url(#c12)" d="M135.5 65.4 L153.5 83.4 M135.5 69.7 L153.5 87.7 M135.5 74.1 L153.5 92.1 M135.5 78.5 L153.5 96.5 M135.5 82.9 L153.5 100.9 M135.5 87.3 L153.5 105.3 M135.5 91.7 L153.5 109.7 M135.5 96.0 L153.5 114.0 M135.5 100.4 L153.5 118.4 M135.5 104.8 L153.5 122.8 M135.5 109.2 L153.5 127.2 M135.5 113.6 L153.5 131.6 M135.5 118.0 L153.5 136.0" fill="none" stroke="#2e2e2e" stroke-width="0.7"/><path class="l" d="M 152.50 87.50 L 145.50 87.50 L 141.50 90.50 L 141.50 100.50 L 136.50 105.50 L 139.50 119.50 L 143.50 118.50 L 152.50 117.50 Z"/>
<clipPath id="c13"><path d="M 171.50 87.50 L 180.50 87.50 L 182.50 90.50 L 182.50 98.50 L 192.50 109.50 L 187.50 123.50 L 184.50 120.50 L 177.50 118.50 L 171.50 117.50 Z"/></clipPath><path d="M 171.50 87.50 L 180.50 87.50 L 182.50 90.50 L 182.50 98.50 L 192.50 109.50 L 187.50 123.50 L 184.50 120.50 L 177.50 118.50 L 171.50 117.50 Z" fill="#fff"/><path clip-path="url(#c13)" d="M170.5 60.9 L193.5 83.9 M170.5 65.3 L193.5 88.3 M170.5 69.7 L193.5 92.7 M170.5 74.1 L193.5 97.1 M170.5 78.4 L193.5 101.4 M170.5 82.8 L193.5 105.8 M170.5 87.2 L193.5 110.2 M170.5 91.6 L193.5 114.6 M170.5 96.0 L193.5 119.0 M170.5 100.4 L193.5 123.4 M170.5 104.7 L193.5 127.7 M170.5 109.1 L193.5 132.1 M170.5 113.5 L193.5 136.5 M170.5 117.9 L193.5 140.9 M170.5 122.3 L193.5 145.3" fill="none" stroke="#2e2e2e" stroke-width="0.7"/><path class="l" d="M 171.50 87.50 L 180.50 87.50 L 182.50 90.50 L 182.50 98.50 L 192.50 109.50 L 187.50 123.50 L 184.50 120.50 L 177.50 118.50 L 171.50 117.50 Z"/>
<path class="lw" d="M 154.50 69.50 L 154.50 75.50 L 152.50 75.50 L 152.50 140.50 L 154.50 142.50 L 154.50 147.50 L 152.50 149.50 L 152.50 278.50 L 171.50 278.50 L 171.50 149.50 L 169.50 147.50 L 169.50 142.50 L 171.50 140.50 L 171.50 75.50 L 169.50 75.50 L 169.50 69.50 Z" />
<path class="l" d="M 152.50 75.50 L 171.50 75.50" />
<path class="t" d="M 155.50 75.50 L 155.50 140.50" />
<path class="t" d="M 168.50 75.50 L 168.50 140.50" />
<path class="t" d="M 152.50 140.50 L 171.50 140.50" />
<path class="t" d="M 154.50 142.50 L 169.50 142.50" />
<path class="t" d="M 154.50 147.50 L 169.50 147.50" />
<path class="t" d="M 152.50 149.50 L 171.50 149.50" />
<path class="dash" d="M 109.50 38.50 C 110.50 33.50 112.50 31.50 116.50 31.50 L 208.50 31.50 C 212.50 31.50 213.50 33.50 214.50 38.50" />
<path class="l" d="M 129.50 44.50 L 141.50 51.50 L 154.50 51.50" />
<path class="t" d="M 129.50 49.50 L 149.50 56.50" />
<path class="l" d="M 128.50 54.50 L 150.50 68.50" />
<path class="l" d="M 194.50 44.50 L 182.50 51.50 L 169.50 51.50" />
<path class="t" d="M 194.50 49.50 L 174.50 56.50" />
<path class="l" d="M 196.50 54.50 L 173.50 68.50" />
<path class="l" d="M 107.50 39.50 L 215.50 39.50" />
<path class="l" d="M 107.50 41.50 L 215.50 41.50" />
<clipPath id="c14"><path d="M 109.60 49.10 A 10.10 7.90 0 0 1 129.80 49.10 A 10.10 7.90 0 0 1 109.60 49.10 Z"/></clipPath><path d="M 109.60 49.10 A 10.10 7.90 0 0 1 129.80 49.10 A 10.10 7.90 0 0 1 109.60 49.10 Z" fill="#fff"/><path clip-path="url(#c14)" d="M107.7 37.4 L131.7 13.4 M107.7 40.1 L131.7 16.1 M107.7 42.8 L131.7 18.8 M107.7 45.5 L131.7 21.5 M107.7 48.1 L131.7 24.1 M107.7 50.8 L131.7 26.8 M107.7 53.5 L131.7 29.5 M107.7 56.2 L131.7 32.2 M107.7 58.9 L131.7 34.9 M107.7 61.6 L131.7 37.6 M107.7 64.3 L131.7 40.3 M107.7 67.0 L131.7 43.0 M107.7 69.6 L131.7 45.6 M107.7 72.3 L131.7 48.3 M107.7 75.0 L131.7 51.0 M107.7 77.7 L131.7 53.7 M107.7 80.4 L131.7 56.4" fill="none" stroke="#2e2e2e" stroke-width="0.5"/><path class="l" d="M 109.60 49.10 A 10.10 7.90 0 0 1 129.80 49.10 A 10.10 7.90 0 0 1 109.60 49.10 Z"/>
<path class="c" d="M 107.50 49.50 L 131.50 49.50" />
<path class="c" d="M 118.50 39.50 L 118.50 58.50" />
<clipPath id="c15"><path d="M 194.20 49.10 A 10.10 7.90 0 0 1 214.40 49.10 A 10.10 7.90 0 0 1 194.20 49.10 Z"/></clipPath><path d="M 194.20 49.10 A 10.10 7.90 0 0 1 214.40 49.10 A 10.10 7.90 0 0 1 194.20 49.10 Z" fill="#fff"/><path clip-path="url(#c15)" d="M192.3 38.8 L216.3 14.8 M192.3 41.5 L216.3 17.5 M192.3 44.2 L216.3 20.2 M192.3 46.8 L216.3 22.8 M192.3 49.5 L216.3 25.5 M192.3 52.2 L216.3 28.2 M192.3 54.9 L216.3 30.9 M192.3 57.6 L216.3 33.6 M192.3 60.3 L216.3 36.3 M192.3 63.0 L216.3 39.0 M192.3 65.7 L216.3 41.7 M192.3 68.3 L216.3 44.3 M192.3 71.0 L216.3 47.0 M192.3 73.7 L216.3 49.7 M192.3 76.4 L216.3 52.4 M192.3 79.1 L216.3 55.1 M192.3 81.8 L216.3 57.8" fill="none" stroke="#2e2e2e" stroke-width="0.5"/><path class="l" d="M 194.20 49.10 A 10.10 7.90 0 0 1 214.40 49.10 A 10.10 7.90 0 0 1 194.20 49.10 Z"/>
<path class="c" d="M 192.50 49.50 L 216.50 49.50" />
<path class="c" d="M 203.50 39.50 L 203.50 58.50" />
<path class="lw" d="M 154.50 54.50 L 170.50 54.50 C 176.50 56.50 176.50 68.50 170.50 69.50 L 154.50 69.50 C 147.50 68.50 147.50 56.50 154.50 54.50 Z" />
<clipPath id="c16"><path d="M 154.50 54.50 C 147.50 56.50 147.50 68.50 154.50 69.50 L 155.50 69.50 L 155.50 54.50 Z"/></clipPath><path d="M 154.50 54.50 C 147.50 56.50 147.50 68.50 154.50 69.50 L 155.50 69.50 L 155.50 54.50 Z" fill="#fff"/><path clip-path="url(#c16)" d="M146.5 52.6 L156.5 42.6 M146.5 54.9 L156.5 44.9 M146.5 57.1 L156.5 47.1 M146.5 59.4 L156.5 49.4 M146.5 61.7 L156.5 51.7 M146.5 63.9 L156.5 53.9 M146.5 66.2 L156.5 56.2 M146.5 68.5 L156.5 58.5 M146.5 70.7 L156.5 60.7 M146.5 73.0 L156.5 63.0 M146.5 75.2 L156.5 65.2 M146.5 77.5 L156.5 67.5 M146.5 79.8 L156.5 69.8" fill="none" stroke="#2e2e2e" stroke-width="0.45"/><path class="l" d="M 154.50 54.50 C 147.50 56.50 147.50 68.50 154.50 69.50 L 155.50 69.50 L 155.50 54.50 Z"/>
<clipPath id="c17"><path d="M 170.50 54.50 C 176.50 56.50 176.50 68.50 170.50 69.50 L 168.50 69.50 L 168.50 54.50 Z"/></clipPath><path d="M 170.50 54.50 C 176.50 56.50 176.50 68.50 170.50 69.50 L 168.50 69.50 L 168.50 54.50 Z" fill="#fff"/><path clip-path="url(#c17)" d="M167.5 52.0 L177.5 42.0 M167.5 54.2 L177.5 44.2 M167.5 56.5 L177.5 46.5 M167.5 58.8 L177.5 48.8 M167.5 61.0 L177.5 51.0 M167.5 63.3 L177.5 53.3 M167.5 65.6 L177.5 55.6 M167.5 67.8 L177.5 57.8 M167.5 70.1 L177.5 60.1 M167.5 72.4 L177.5 62.4 M167.5 74.6 L177.5 64.6 M167.5 76.9 L177.5 66.9 M167.5 79.1 L177.5 69.1" fill="none" stroke="#2e2e2e" stroke-width="0.45"/><path class="l" d="M 170.50 54.50 C 176.50 56.50 176.50 68.50 170.50 69.50 L 168.50 69.50 L 168.50 54.50 Z"/>
<path class="t" d="M 155.50 54.50 L 161.50 69.50 M 161.50 54.50 L 155.50 69.50 M 163.50 54.50 L 168.50 69.50 M 168.50 54.50 L 163.50 69.50 M 160.50 54.50 Q 158.50 62.50 160.50 69.50 M 163.50 54.50 Q 165.50 62.50 163.50 69.50" />
<path class="lw" d="M 157.50 46.50 L 157.50 42.50 Q 157.50 40.50 159.50 40.50 L 164.50 40.50 Q 166.50 40.50 166.50 42.50 L 166.50 46.50" />
<path class="lw" d="M 154.50 54.50 L 154.50 47.50 L 155.50 46.50 L 168.50 46.50 L 169.50 47.50 L 169.50 54.50 Z" />
<path class="l" d="M 158.50 46.50 L 158.50 54.50" />
<path class="l" d="M 166.50 46.50 L 166.50 54.50" />
<path class="t" d="M 146.50 48.50 L 153.50 48.50" />
<path class="t" d="M 170.50 48.50 L 177.50 48.50" />
<path class="c" d="M 162.50 36.50 L 162.50 250.50" />
<path class="d" d="M 208.50 31.50 L 275.50 31.50" />
<path class="d" d="M 268.50 31.50 L 268.50 310.50" /><path class="ar" d="M268 31.6 L267.0 36.800000000000004 L269.0 36.800000000000004 Z M268 310.1 L267.0 304.90000000000003 L269.0 304.90000000000003 Z" />
<path class="d" d="M 25.50 248.50 L 66.50 248.50" />
<path class="d" d="M 25.50 371.50 L 66.50 371.50" />
<path class="d" d="M 27.50 248.50 L 27.50 371.50" /><path class="ar" d="M27.3 248.9 L26.3 254.1 L28.3 254.1 Z M27.3 371 L26.3 365.8 L28.3 365.8 Z" />
<path class="d" d="M 41.50 266.50 L 85.50 266.50" />
<path class="d" d="M 41.50 354.50 L 85.50 354.50" />
<path class="d" d="M 44.50 266.50 L 44.50 354.50" /><path class="ar" d="M44 266.6 L43.0 271.8 L45.0 271.8 Z M44 354.2 L43.0 349.0 L45.0 349.0 Z" />
<path class="d" d="M 58.50 297.50 L 65.50 297.50" />
<path class="d" d="M 58.50 323.50 L 65.50 323.50" />
<path class="d" d="M 60.50 297.50 L 60.50 323.50" /><path class="ar" d="M60.3 297.2 L59.3 302.4 L61.3 302.4 Z M60.3 323.5 L59.3 318.3 L61.3 318.3 Z" />
<path class="d" d="M 64.50 341.50 L 64.50 398.50" />
<path class="d" d="M 259.50 341.50 L 259.50 398.50" />
<path class="d" d="M 64.50 395.50 L 259.50 395.50" /><path class="ar" d="M64.9 395.2 L70.10000000000001 394.2 L70.10000000000001 396.2 Z M259.2 395.2 L254.0 394.2 L254.0 396.2 Z" />
<path class="d" d="M 240.50 354.50 L 262.50 354.50" />
<path class="d" d="M 234.50 226.50 L 234.50 281.50" />
<path class="ar" d="M234.8 258 L233.8 254 L235.8 254 Z M234.8 274.5 L233.8 278.5 L235.8 278.5 Z" />
<path class="d" d="M 232.50 258.50 L 258.50 258.50" />
<path class="d" d="M 232.50 274.50 L 258.50 274.50" />
<path class="c2" d="M 239.50 266.50 L 260.50 266.50" />
<g transform="translate(26.8,310.5) rotate(-90)"><path class="gt" transform="translate(-2.50,-10.00)" d="M 0.00 0.00 V 10.00 H 2.00 Q 5.00 10.00 5.00 7.00 V 3.00 Q 5.00 0.00 2.00 0.00 Z"/></g>
<g transform="translate(43.1,310.5) rotate(-90)"><path class="gt" transform="translate(-2.50,-10.00)" d="M 5.00 2.70 Q 5.00 0.00 2.50 0.00 Q 0.00 0.00 0.00 2.70 V 7.30 Q 0.00 10.00 2.50 10.00 Q 5.00 10.00 5.00 7.30"/></g>
<g transform="translate(58.9,309.6) rotate(-90)"><path class="gt" transform="translate(-5.82,-9.70)" d="M 0.00 0.00 V 9.70 H 1.94 Q 4.85 9.70 4.85 6.79 V 2.91 Q 4.85 0.00 1.94 0.00 Z"/><path class="gt" transform="translate(0.97,-9.70)" d="M 0.00 9.70 V 0.00 L 4.85 9.70 V 0.00"/></g>
<g transform="translate(266.0,142.1) rotate(-90)"><path class="gt" transform="translate(-2.37,-8.60)" d="M 0.00 0.00 V 8.60 M 4.73 0.00 V 8.60 M 0.00 4.30 H 4.73"/></g>
<g transform="translate(233.6,237.6) rotate(-90)"><path class="gt" transform="translate(-9.39,-8.50)" d="M 0.00 2.97 V 8.50 M 0.00 4.93 Q 0.44 2.97 2.87 2.97 Q 5.53 2.97 5.53 5.10 V 8.50"/><path class="gt" transform="translate(-2.76,-8.50)" d="M 0.55 5.27 H 5.53"/><path class="gt" transform="translate(3.87,-8.50)" d="M 5.53 0.00 V 8.50 M 5.53 4.93 Q 5.08 2.97 2.76 2.97 Q 0.00 2.97 0.00 5.10 V 6.38 Q 0.00 8.50 2.76 8.50 Q 5.08 8.50 5.53 6.63"/></g>
<g transform="translate(161.6,393.9) rotate(0)"><path class="gt" transform="translate(-2.31,-8.80)" d="M 0.00 0.00 V 8.80 H 4.62"/></g>
</g>
<g id="right">
<clipPath id="c18"><path d="M 433.50 221.50 L 448.50 221.50 L 448.50 255.50 C 448.50 260.50 451.50 264.50 458.50 264.50 L 489.50 264.50 C 492.50 264.50 493.50 261.50 493.50 258.50 C 493.50 253.50 491.50 249.50 487.50 249.50 L 462.50 249.50 L 461.50 248.50 L 461.50 234.50 L 462.50 233.50 L 498.50 233.50 L 498.50 236.50 L 504.50 236.50 L 505.50 242.50 L 502.50 244.50 L 503.50 255.50 C 503.50 262.50 500.50 268.50 495.50 271.50 C 493.50 271.50 492.50 272.50 490.50 272.50 L 433.50 272.50 Z"/></clipPath><path d="M 433.50 221.50 L 448.50 221.50 L 448.50 255.50 C 448.50 260.50 451.50 264.50 458.50 264.50 L 489.50 264.50 C 492.50 264.50 493.50 261.50 493.50 258.50 C 493.50 253.50 491.50 249.50 487.50 249.50 L 462.50 249.50 L 461.50 248.50 L 461.50 234.50 L 462.50 233.50 L 498.50 233.50 L 498.50 236.50 L 504.50 236.50 L 505.50 242.50 L 502.50 244.50 L 503.50 255.50 C 503.50 262.50 500.50 268.50 495.50 271.50 C 493.50 271.50 492.50 272.50 490.50 272.50 L 433.50 272.50 Z" fill="#fff"/><path clip-path="url(#c18)" d="M432.5 144.0 L506.5 218.0 M432.5 148.2 L506.5 222.2 M432.5 152.5 L506.5 226.5 M432.5 156.7 L506.5 230.7 M432.5 161.0 L506.5 235.0 M432.5 165.2 L506.5 239.2 M432.5 169.5 L506.5 243.5 M432.5 173.7 L506.5 247.7 M432.5 177.9 L506.5 251.9 M432.5 182.2 L506.5 256.2 M432.5 186.4 L506.5 260.4 M432.5 190.7 L506.5 264.7 M432.5 194.9 L506.5 268.9 M432.5 199.2 L506.5 273.2 M432.5 203.4 L506.5 277.4 M432.5 207.6 L506.5 281.6 M432.5 211.9 L506.5 285.9 M432.5 216.1 L506.5 290.1 M432.5 220.4 L506.5 294.4 M432.5 224.6 L506.5 298.6 M432.5 228.9 L506.5 302.9 M432.5 233.1 L506.5 307.1 M432.5 237.3 L506.5 311.3 M432.5 241.6 L506.5 315.6 M432.5 245.8 L506.5 319.8 M432.5 250.1 L506.5 324.1 M432.5 254.3 L506.5 328.3 M432.5 258.6 L506.5 332.6 M432.5 262.8 L506.5 336.8 M432.5 267.0 L506.5 341.0 M432.5 271.3 L506.5 345.3" fill="none" stroke="#2e2e2e" stroke-width="0.75"/><path class="l" d="M 433.50 221.50 L 448.50 221.50 L 448.50 255.50 C 448.50 260.50 451.50 264.50 458.50 264.50 L 489.50 264.50 C 492.50 264.50 493.50 261.50 493.50 258.50 C 493.50 253.50 491.50 249.50 487.50 249.50 L 462.50 249.50 L 461.50 248.50 L 461.50 234.50 L 462.50 233.50 L 498.50 233.50 L 498.50 236.50 L 504.50 236.50 L 505.50 242.50 L 502.50 244.50 L 503.50 255.50 C 503.50 262.50 500.50 268.50 495.50 271.50 C 493.50 271.50 492.50 272.50 490.50 272.50 L 433.50 272.50 Z"/>
<clipPath id="c19"><path d="M 433.50 303.50 L 477.50 301.50 L 513.50 299.50 L 513.50 295.50 L 517.50 295.50 L 517.50 307.50 L 514.50 307.50 L 517.50 362.50 L 517.50 386.50 L 495.50 386.50 L 495.50 371.50 L 505.50 371.50 C 508.50 371.50 509.50 368.50 510.50 364.50 L 510.50 355.50 L 509.50 342.50 L 508.50 326.50 C 508.50 318.50 505.50 313.50 500.50 310.50 C 498.50 308.50 496.50 308.50 494.50 308.50 L 477.50 307.50 L 457.50 308.50 C 451.50 309.50 448.50 311.50 448.50 316.50 L 448.50 353.50 L 433.50 353.50 Z"/></clipPath><path d="M 433.50 303.50 L 477.50 301.50 L 513.50 299.50 L 513.50 295.50 L 517.50 295.50 L 517.50 307.50 L 514.50 307.50 L 517.50 362.50 L 517.50 386.50 L 495.50 386.50 L 495.50 371.50 L 505.50 371.50 C 508.50 371.50 509.50 368.50 510.50 364.50 L 510.50 355.50 L 509.50 342.50 L 508.50 326.50 C 508.50 318.50 505.50 313.50 500.50 310.50 C 498.50 308.50 496.50 308.50 494.50 308.50 L 477.50 307.50 L 457.50 308.50 C 451.50 309.50 448.50 311.50 448.50 316.50 L 448.50 353.50 L 433.50 353.50 Z" fill="#fff"/><path clip-path="url(#c19)" d="M432.5 207.6 L518.5 293.6 M432.5 211.9 L518.5 297.9 M432.5 216.1 L518.5 302.1 M432.5 220.4 L518.5 306.4 M432.5 224.6 L518.5 310.6 M432.5 228.9 L518.5 314.9 M432.5 233.1 L518.5 319.1 M432.5 237.3 L518.5 323.3 M432.5 241.6 L518.5 327.6 M432.5 245.8 L518.5 331.8 M432.5 250.1 L518.5 336.1 M432.5 254.3 L518.5 340.3 M432.5 258.6 L518.5 344.6 M432.5 262.8 L518.5 348.8 M432.5 267.0 L518.5 353.0 M432.5 271.3 L518.5 357.3 M432.5 275.5 L518.5 361.5 M432.5 279.8 L518.5 365.8 M432.5 284.0 L518.5 370.0 M432.5 288.3 L518.5 374.3 M432.5 292.5 L518.5 378.5 M432.5 296.7 L518.5 382.7 M432.5 301.0 L518.5 387.0 M432.5 305.2 L518.5 391.2 M432.5 309.5 L518.5 395.5 M432.5 313.7 L518.5 399.7 M432.5 317.9 L518.5 403.9 M432.5 322.2 L518.5 408.2 M432.5 326.4 L518.5 412.4 M432.5 330.7 L518.5 416.7 M432.5 334.9 L518.5 420.9 M432.5 339.2 L518.5 425.2 M432.5 343.4 L518.5 429.4 M432.5 347.6 L518.5 433.6 M432.5 351.9 L518.5 437.9 M432.5 356.1 L518.5 442.1 M432.5 360.4 L518.5 446.4 M432.5 364.6 L518.5 450.6 M432.5 368.9 L518.5 454.9 M432.5 373.1 L518.5 459.1 M432.5 377.3 L518.5 463.3 M432.5 381.6 L518.5 467.6 M432.5 385.8 L518.5 471.8" fill="none" stroke="#2e2e2e" stroke-width="0.75"/><path class="l" d="M 433.50 303.50 L 477.50 301.50 L 513.50 299.50 L 513.50 295.50 L 517.50 295.50 L 517.50 307.50 L 514.50 307.50 L 517.50 362.50 L 517.50 386.50 L 495.50 386.50 L 495.50 371.50 L 505.50 371.50 C 508.50 371.50 509.50 368.50 510.50 364.50 L 510.50 355.50 L 509.50 342.50 L 508.50 326.50 C 508.50 318.50 505.50 313.50 500.50 310.50 C 498.50 308.50 496.50 308.50 494.50 308.50 L 477.50 307.50 L 457.50 308.50 C 451.50 309.50 448.50 311.50 448.50 316.50 L 448.50 353.50 L 433.50 353.50 Z"/>
<clipPath id="c20"><path d="M 467.50 371.50 L 478.50 371.50 L 478.50 386.50 L 467.50 386.50 Z"/></clipPath><path d="M 467.50 371.50 L 478.50 371.50 L 478.50 386.50 L 467.50 386.50 Z" fill="#fff"/><path clip-path="url(#c20)" d="M466.5 356.2 L479.5 369.2 M466.5 360.4 L479.5 373.4 M466.5 364.7 L479.5 377.7 M466.5 368.9 L479.5 381.9 M466.5 373.2 L479.5 386.2 M466.5 377.4 L479.5 390.4 M466.5 381.6 L479.5 394.6 M466.5 385.9 L479.5 398.9" fill="none" stroke="#2e2e2e" stroke-width="0.75"/><path class="l" d="M 467.50 371.50 L 478.50 371.50 L 478.50 386.50 L 467.50 386.50 Z"/>
<path class="l" d="M 478.50 371.50 L 495.50 371.50 M 478.50 386.50 L 495.50 386.50" />
<clipPath id="c21"><path d="M 560.50 236.50 L 566.50 236.50 L 567.50 233.50 L 591.50 233.50 L 592.50 234.50 L 592.50 249.50 L 591.50 250.50 L 577.50 250.50 C 574.50 251.50 572.50 253.50 572.50 255.50 L 570.50 266.50 L 569.50 287.50 L 568.50 296.50 C 567.50 300.50 565.50 302.50 563.50 304.50 C 561.50 306.50 559.50 307.50 559.50 309.50 L 557.50 316.50 L 556.50 335.50 L 555.50 350.50 L 555.50 360.50 C 555.50 366.50 558.50 370.50 563.50 371.50 L 598.50 371.50 L 598.50 386.50 L 548.50 386.50 L 548.50 362.50 L 550.50 307.50 L 548.50 307.50 L 548.50 295.50 L 552.50 295.50 L 552.50 300.50 L 554.50 300.50 L 557.50 298.50 L 557.50 293.50 L 558.50 291.50 L 562.50 289.50 L 562.50 242.50 L 559.50 242.50 Z"/></clipPath><path d="M 560.50 236.50 L 566.50 236.50 L 567.50 233.50 L 591.50 233.50 L 592.50 234.50 L 592.50 249.50 L 591.50 250.50 L 577.50 250.50 C 574.50 251.50 572.50 253.50 572.50 255.50 L 570.50 266.50 L 569.50 287.50 L 568.50 296.50 C 567.50 300.50 565.50 302.50 563.50 304.50 C 561.50 306.50 559.50 307.50 559.50 309.50 L 557.50 316.50 L 556.50 335.50 L 555.50 350.50 L 555.50 360.50 C 555.50 366.50 558.50 370.50 563.50 371.50 L 598.50 371.50 L 598.50 386.50 L 548.50 386.50 L 548.50 362.50 L 550.50 307.50 L 548.50 307.50 L 548.50 295.50 L 552.50 295.50 L 552.50 300.50 L 554.50 300.50 L 557.50 298.50 L 557.50 293.50 L 558.50 291.50 L 562.50 289.50 L 562.50 242.50 L 559.50 242.50 Z" fill="#fff"/><path clip-path="url(#c21)" d="M547.5 178.4 L599.5 230.4 M547.5 182.6 L599.5 234.6 M547.5 186.9 L599.5 238.9 M547.5 191.1 L599.5 243.1 M547.5 195.4 L599.5 247.4 M547.5 199.6 L599.5 251.6 M547.5 203.8 L599.5 255.8 M547.5 208.1 L599.5 260.1 M547.5 212.3 L599.5 264.3 M547.5 216.6 L599.5 268.6 M547.5 220.8 L599.5 272.8 M547.5 225.1 L599.5 277.1 M547.5 229.3 L599.5 281.3 M547.5 233.5 L599.5 285.5 M547.5 237.8 L599.5 289.8 M547.5 242.0 L599.5 294.0 M547.5 246.3 L599.5 298.3 M547.5 250.5 L599.5 302.5 M547.5 254.8 L599.5 306.8 M547.5 259.0 L599.5 311.0 M547.5 263.2 L599.5 315.2 M547.5 267.5 L599.5 319.5 M547.5 271.7 L599.5 323.7 M547.5 276.0 L599.5 328.0 M547.5 280.2 L599.5 332.2 M547.5 284.5 L599.5 336.5 M547.5 288.7 L599.5 340.7 M547.5 292.9 L599.5 344.9 M547.5 297.2 L599.5 349.2 M547.5 301.4 L599.5 353.4 M547.5 305.7 L599.5 357.7 M547.5 309.9 L599.5 361.9 M547.5 314.2 L599.5 366.2 M547.5 318.4 L599.5 370.4 M547.5 322.6 L599.5 374.6 M547.5 326.9 L599.5 378.9 M547.5 331.1 L599.5 383.1 M547.5 335.4 L599.5 387.4 M547.5 339.6 L599.5 391.6 M547.5 343.9 L599.5 395.9 M547.5 348.1 L599.5 400.1 M547.5 352.3 L599.5 404.3 M547.5 356.6 L599.5 408.6 M547.5 360.8 L599.5 412.8 M547.5 365.1 L599.5 417.1 M547.5 369.3 L599.5 421.3 M547.5 373.6 L599.5 425.6 M547.5 377.8 L599.5 429.8 M547.5 382.0 L599.5 434.0 M547.5 386.3 L599.5 438.3" fill="none" stroke="#2e2e2e" stroke-width="0.75"/><path class="l" d="M 560.50 236.50 L 566.50 236.50 L 567.50 233.50 L 591.50 233.50 L 592.50 234.50 L 592.50 249.50 L 591.50 250.50 L 577.50 250.50 C 574.50 251.50 572.50 253.50 572.50 255.50 L 570.50 266.50 L 569.50 287.50 L 568.50 296.50 C 567.50 300.50 565.50 302.50 563.50 304.50 C 561.50 306.50 559.50 307.50 559.50 309.50 L 557.50 316.50 L 556.50 335.50 L 555.50 350.50 L 555.50 360.50 C 555.50 366.50 558.50 370.50 563.50 371.50 L 598.50 371.50 L 598.50 386.50 L 548.50 386.50 L 548.50 362.50 L 550.50 307.50 L 548.50 307.50 L 548.50 295.50 L 552.50 295.50 L 552.50 300.50 L 554.50 300.50 L 557.50 298.50 L 557.50 293.50 L 558.50 291.50 L 562.50 289.50 L 562.50 242.50 L 559.50 242.50 Z"/>
<path class="l" d="M 433.50 272.50 L 433.50 303.50" />
<path class="t" d="M 431.50 248.50 L 431.50 326.50" />
<path class="t" d="M 457.50 272.50 L 457.50 302.50" />
<path class="t" d="M 517.50 307.50 L 548.50 307.50" />
<path class="t" d="M 517.50 362.50 L 548.50 362.50" />
<path class="t" d="M 496.50 388.50 L 578.50 388.50" />
<path class="l" d="M 517.50 386.50 L 548.50 386.50" />
<clipPath id="c22"><path d="M 511.50 265.50 L 517.50 265.50 L 517.50 272.50 L 521.50 273.50 L 521.50 281.50 L 544.50 281.50 L 544.50 273.50 L 548.50 272.50 L 548.50 265.50 L 553.50 265.50 L 553.50 292.50 L 511.50 292.50 Z"/></clipPath><path d="M 511.50 265.50 L 517.50 265.50 L 517.50 272.50 L 521.50 273.50 L 521.50 281.50 L 544.50 281.50 L 544.50 273.50 L 548.50 272.50 L 548.50 265.50 L 553.50 265.50 L 553.50 292.50 L 511.50 292.50 Z" fill="#fff"/><path clip-path="url(#c22)" d="M510.5 264.4 L554.5 220.4 M510.5 267.2 L554.5 223.2 M510.5 269.9 L554.5 225.9 M510.5 272.7 L554.5 228.7 M510.5 275.4 L554.5 231.4 M510.5 278.2 L554.5 234.2 M510.5 281.0 L554.5 237.0 M510.5 283.7 L554.5 239.7 M510.5 286.5 L554.5 242.5 M510.5 289.2 L554.5 245.2 M510.5 292.0 L554.5 248.0 M510.5 294.8 L554.5 250.8 M510.5 297.5 L554.5 253.5 M510.5 300.3 L554.5 256.3 M510.5 303.0 L554.5 259.0 M510.5 305.8 L554.5 261.8 M510.5 308.5 L554.5 264.5 M510.5 311.3 L554.5 267.3 M510.5 314.1 L554.5 270.1 M510.5 316.8 L554.5 272.8 M510.5 319.6 L554.5 275.6 M510.5 322.3 L554.5 278.3 M510.5 325.1 L554.5 281.1 M510.5 327.8 L554.5 283.8 M510.5 330.6 L554.5 286.6 M510.5 333.4 L554.5 289.4 M510.5 336.1 L554.5 292.1" fill="none" stroke="#2e2e2e" stroke-width="0.55"/><path class="l" d="M 511.50 265.50 L 517.50 265.50 L 517.50 272.50 L 521.50 273.50 L 521.50 281.50 L 544.50 281.50 L 544.50 273.50 L 548.50 272.50 L 548.50 265.50 L 553.50 265.50 L 553.50 292.50 L 511.50 292.50 Z"/>
<path class="lw" d="M 513.50 292.50 L 552.50 292.50 L 552.50 295.50 L 513.50 295.50 Z" />
<path class="t" d="M 517.50 293.50 L 547.50 293.50" />
<path class="blk" d="M 513.50 295.50 L 552.50 295.50 L 552.50 296.50 L 513.50 296.50 Z" />
<clipPath id="c23"><path d="M 519.50 248.50 L 523.50 248.50 L 523.50 272.50 L 521.50 273.50 L 517.50 272.50 L 517.50 259.50 L 515.50 259.50 L 515.50 254.50 Z"/></clipPath><path d="M 519.50 248.50 L 523.50 248.50 L 523.50 272.50 L 521.50 273.50 L 517.50 272.50 L 517.50 259.50 L 515.50 259.50 L 515.50 254.50 Z" fill="#fff"/><path clip-path="url(#c23)" d="M514.5 236.2 L524.5 246.2 M514.5 238.4 L524.5 248.4 M514.5 240.7 L524.5 250.7 M514.5 243.0 L524.5 253.0 M514.5 245.2 L524.5 255.2 M514.5 247.5 L524.5 257.5 M514.5 249.8 L524.5 259.8 M514.5 252.0 L524.5 262.0 M514.5 254.3 L524.5 264.3 M514.5 256.5 L524.5 266.5 M514.5 258.8 L524.5 268.8 M514.5 261.1 L524.5 271.1 M514.5 263.3 L524.5 273.3 M514.5 265.6 L524.5 275.6 M514.5 267.9 L524.5 277.9 M514.5 270.1 L524.5 280.1 M514.5 272.4 L524.5 282.4" fill="none" stroke="#2e2e2e" stroke-width="0.45"/><path class="l" d="M 519.50 248.50 L 523.50 248.50 L 523.50 272.50 L 521.50 273.50 L 517.50 272.50 L 517.50 259.50 L 515.50 259.50 L 515.50 254.50 Z"/>
<clipPath id="c24"><path d="M 545.50 248.50 L 541.50 248.50 L 541.50 272.50 L 543.50 273.50 L 548.50 272.50 L 548.50 259.50 L 550.50 259.50 L 550.50 254.50 Z"/></clipPath><path d="M 545.50 248.50 L 541.50 248.50 L 541.50 272.50 L 543.50 273.50 L 548.50 272.50 L 548.50 259.50 L 550.50 259.50 L 550.50 254.50 Z" fill="#fff"/><path clip-path="url(#c24)" d="M540.5 235.0 L551.5 246.0 M540.5 237.3 L551.5 248.3 M540.5 239.6 L551.5 250.6 M540.5 241.8 L551.5 252.8 M540.5 244.1 L551.5 255.1 M540.5 246.3 L551.5 257.3 M540.5 248.6 L551.5 259.6 M540.5 250.9 L551.5 261.9 M540.5 253.1 L551.5 264.1 M540.5 255.4 L551.5 266.4 M540.5 257.7 L551.5 268.7 M540.5 259.9 L551.5 270.9 M540.5 262.2 L551.5 273.2 M540.5 264.4 L551.5 275.4 M540.5 266.7 L551.5 277.7 M540.5 269.0 L551.5 280.0 M540.5 271.2 L551.5 282.2 M540.5 273.5 L551.5 284.5" fill="none" stroke="#2e2e2e" stroke-width="0.45"/><path class="l" d="M 545.50 248.50 L 541.50 248.50 L 541.50 272.50 L 543.50 273.50 L 548.50 272.50 L 548.50 259.50 L 550.50 259.50 L 550.50 254.50 Z"/>
<path class="blk" d="M 514.50 257.50 L 520.50 257.50 L 520.50 259.50 L 514.50 259.50 Z M 545.50 257.50 L 550.50 257.50 L 550.50 259.50 L 545.50 259.50 Z" />
<path class="lw" d="M 522.50 273.50 L 542.50 273.50 Q 544.50 273.50 544.50 274.50 L 544.50 278.50 Q 544.50 279.50 542.50 279.50 L 522.50 279.50 Q 521.50 279.50 521.50 278.50 L 521.50 274.50 Q 521.50 273.50 522.50 273.50 Z" />
<path class="t" d="M 521.50 279.50 Q 532.50 283.50 544.50 279.50" />
<path class="c" d="M 532.50 245.50 L 532.50 412.50" />
<path class="c" d="M 425.50 287.50 L 624.50 287.50" />
<path class="c2" d="M 487.50 369.50 L 487.50 389.50" />
<path class="d" d="M 578.50 366.50 L 578.50 390.50" />
<path class="lw" d="M 472.50 199.50 L 472.50 193.50 Q 472.50 192.50 473.50 192.50 L 488.50 192.50 Q 489.50 192.50 489.50 193.50 L 489.50 199.50" />
<path class="t" d="M 472.50 194.50 L 489.50 194.50" />
<path class="lw" d="M 468.50 216.50 L 468.50 201.50 L 469.50 199.50 L 492.50 199.50 L 494.50 201.50 L 494.50 216.50 Z" />
<path class="l" d="M 475.50 199.50 L 475.50 216.50" />
<path class="l" d="M 487.50 199.50 L 487.50 216.50" />
<path class="lw" d="M 561.50 198.50 L 561.50 194.50 Q 561.50 193.50 562.50 193.50 L 576.50 193.50 Q 577.50 193.50 577.50 194.50 L 577.50 198.50" />
<path class="t" d="M 561.50 194.50 L 577.50 194.50" />
<path class="lw" d="M 556.50 216.50 L 556.50 200.50 L 558.50 198.50 L 580.50 198.50 L 581.50 200.50 L 581.50 216.50 Z" />
<path class="l" d="M 563.50 198.50 L 563.50 216.50" />
<path class="l" d="M 575.50 198.50 L 575.50 216.50" />
<clipPath id="c25"><path d="M 460.50 217.50 L 461.50 216.50 L 487.50 216.50 L 490.50 206.50 L 509.50 206.50 L 511.50 202.50 L 511.50 180.50 L 516.50 180.50 L 516.50 226.50 L 548.50 226.50 L 548.50 180.50 L 552.50 180.50 C 555.50 178.50 557.50 176.50 558.50 173.50 L 559.50 169.50 L 570.50 175.50 C 569.50 179.50 567.50 184.50 565.50 188.50 C 560.50 191.50 557.50 195.50 556.50 200.50 C 556.50 206.50 559.50 211.50 563.50 214.50 L 565.50 216.50 L 587.50 216.50 L 588.50 217.50 L 588.50 230.50 L 587.50 231.50 L 567.50 231.50 L 566.50 236.50 L 560.50 236.50 L 559.50 241.50 L 505.50 241.50 L 504.50 236.50 L 498.50 236.50 L 497.50 231.50 L 461.50 231.50 L 460.50 230.50 Z"/></clipPath><path d="M 460.50 217.50 L 461.50 216.50 L 487.50 216.50 L 490.50 206.50 L 509.50 206.50 L 511.50 202.50 L 511.50 180.50 L 516.50 180.50 L 516.50 226.50 L 548.50 226.50 L 548.50 180.50 L 552.50 180.50 C 555.50 178.50 557.50 176.50 558.50 173.50 L 559.50 169.50 L 570.50 175.50 C 569.50 179.50 567.50 184.50 565.50 188.50 C 560.50 191.50 557.50 195.50 556.50 200.50 C 556.50 206.50 559.50 211.50 563.50 214.50 L 565.50 216.50 L 587.50 216.50 L 588.50 217.50 L 588.50 230.50 L 587.50 231.50 L 567.50 231.50 L 566.50 236.50 L 560.50 236.50 L 559.50 241.50 L 505.50 241.50 L 504.50 236.50 L 498.50 236.50 L 497.50 231.50 L 461.50 231.50 L 460.50 230.50 Z" fill="#fff"/><path clip-path="url(#c25)" d="M459.5 168.4 L589.5 38.4 M459.5 172.7 L589.5 42.7 M459.5 176.9 L589.5 46.9 M459.5 181.1 L589.5 51.1 M459.5 185.4 L589.5 55.4 M459.5 189.6 L589.5 59.6 M459.5 193.9 L589.5 63.9 M459.5 198.1 L589.5 68.1 M459.5 202.4 L589.5 72.4 M459.5 206.6 L589.5 76.6 M459.5 210.8 L589.5 80.8 M459.5 215.1 L589.5 85.1 M459.5 219.3 L589.5 89.3 M459.5 223.6 L589.5 93.6 M459.5 227.8 L589.5 97.8 M459.5 232.1 L589.5 102.1 M459.5 236.3 L589.5 106.3 M459.5 240.5 L589.5 110.5 M459.5 244.8 L589.5 114.8 M459.5 249.0 L589.5 119.0 M459.5 253.3 L589.5 123.3 M459.5 257.5 L589.5 127.5 M459.5 261.7 L589.5 131.7 M459.5 266.0 L589.5 136.0 M459.5 270.2 L589.5 140.2 M459.5 274.5 L589.5 144.5 M459.5 278.7 L589.5 148.7 M459.5 283.0 L589.5 153.0 M459.5 287.2 L589.5 157.2 M459.5 291.4 L589.5 161.4 M459.5 295.7 L589.5 165.7 M459.5 299.9 L589.5 169.9 M459.5 304.2 L589.5 174.2 M459.5 308.4 L589.5 178.4 M459.5 312.7 L589.5 182.7 M459.5 316.9 L589.5 186.9 M459.5 321.1 L589.5 191.1 M459.5 325.4 L589.5 195.4 M459.5 329.6 L589.5 199.6 M459.5 333.9 L589.5 203.9 M459.5 338.1 L589.5 208.1 M459.5 342.4 L589.5 212.4 M459.5 346.6 L589.5 216.6 M459.5 350.8 L589.5 220.8 M459.5 355.1 L589.5 225.1 M459.5 359.3 L589.5 229.3 M459.5 363.6 L589.5 233.6 M459.5 367.8 L589.5 237.8 M459.5 372.1 L589.5 242.1" fill="none" stroke="#2e2e2e" stroke-width="0.75"/><path class="l" d="M 460.50 217.50 L 461.50 216.50 L 487.50 216.50 L 490.50 206.50 L 509.50 206.50 L 511.50 202.50 L 511.50 180.50 L 516.50 180.50 L 516.50 226.50 L 548.50 226.50 L 548.50 180.50 L 552.50 180.50 C 555.50 178.50 557.50 176.50 558.50 173.50 L 559.50 169.50 L 570.50 175.50 C 569.50 179.50 567.50 184.50 565.50 188.50 C 560.50 191.50 557.50 195.50 556.50 200.50 C 556.50 206.50 559.50 211.50 563.50 214.50 L 565.50 216.50 L 587.50 216.50 L 588.50 217.50 L 588.50 230.50 L 587.50 231.50 L 567.50 231.50 L 566.50 236.50 L 560.50 236.50 L 559.50 241.50 L 505.50 241.50 L 504.50 236.50 L 498.50 236.50 L 497.50 231.50 L 461.50 231.50 L 460.50 230.50 Z"/>
<path class="blk" d="M 498.50 235.50 L 504.50 235.50 L 504.50 236.50 L 498.50 236.50 Z M 560.50 235.50 L 566.50 235.50 L 566.50 236.50 L 560.50 236.50 Z" />
<path class="lw" d="M 496.50 206.50 L 496.50 218.50 L 497.50 219.50 L 497.50 223.50 L 501.50 230.50 L 505.50 223.50 L 505.50 219.50 L 509.50 218.50 L 509.50 206.50 Z" />
<clipPath id="c26"><path d="M 516.50 188.50 L 523.50 188.50 L 523.50 226.50 L 516.50 226.50 Z"/></clipPath><path d="M 516.50 188.50 L 523.50 188.50 L 523.50 226.50 L 516.50 226.50 Z" fill="#fff"/><path clip-path="url(#c26)" d="M515.5 185.4 L524.5 176.4 M515.5 189.3 L524.5 180.3 M515.5 193.3 L524.5 184.3 M515.5 197.3 L524.5 188.3 M515.5 201.2 L524.5 192.2 M515.5 205.2 L524.5 196.2 M515.5 209.1 L524.5 200.1 M515.5 213.1 L524.5 204.1 M515.5 217.1 L524.5 208.1 M515.5 221.0 L524.5 212.0 M515.5 225.0 L524.5 216.0 M515.5 228.9 L524.5 219.9 M515.5 232.9 L524.5 223.9 M515.5 175.0 L524.5 184.0 M515.5 178.9 L524.5 187.9 M515.5 182.9 L524.5 191.9 M515.5 186.8 L524.5 195.8 M515.5 190.8 L524.5 199.8 M515.5 194.8 L524.5 203.8 M515.5 198.7 L524.5 207.7 M515.5 202.7 L524.5 211.7 M515.5 206.6 L524.5 215.6 M515.5 210.6 L524.5 219.6 M515.5 214.6 L524.5 223.6 M515.5 218.5 L524.5 227.5 M515.5 222.5 L524.5 231.5 M515.5 226.4 L524.5 235.4" fill="none" stroke="#2e2e2e" stroke-width="0.55"/><path class="l" d="M 516.50 188.50 L 523.50 188.50 L 523.50 226.50 L 516.50 226.50 Z"/>
<clipPath id="c27"><path d="M 541.50 188.50 L 548.50 188.50 L 548.50 226.50 L 541.50 226.50 Z"/></clipPath><path d="M 541.50 188.50 L 548.50 188.50 L 548.50 226.50 L 541.50 226.50 Z" fill="#fff"/><path clip-path="url(#c27)" d="M540.5 184.1 L549.5 175.1 M540.5 188.1 L549.5 179.1 M540.5 192.1 L549.5 183.1 M540.5 196.0 L549.5 187.0 M540.5 200.0 L549.5 191.0 M540.5 203.9 L549.5 194.9 M540.5 207.9 L549.5 198.9 M540.5 211.9 L549.5 202.9 M540.5 215.8 L549.5 206.8 M540.5 219.8 L549.5 210.8 M540.5 223.7 L549.5 214.7 M540.5 227.7 L549.5 218.7 M540.5 231.7 L549.5 222.7 M540.5 235.6 L549.5 226.6 M540.5 176.2 L549.5 185.2 M540.5 180.2 L549.5 189.2 M540.5 184.1 L549.5 193.1 M540.5 188.1 L549.5 197.1 M540.5 192.0 L549.5 201.0 M540.5 196.0 L549.5 205.0 M540.5 200.0 L549.5 209.0 M540.5 203.9 L549.5 212.9 M540.5 207.9 L549.5 216.9 M540.5 211.8 L549.5 220.8 M540.5 215.8 L549.5 224.8 M540.5 219.8 L549.5 228.8 M540.5 223.7 L549.5 232.7" fill="none" stroke="#2e2e2e" stroke-width="0.55"/><path class="l" d="M 541.50 188.50 L 548.50 188.50 L 548.50 226.50 L 541.50 226.50 Z"/>
<path class="t" d="M 516.50 194.50 L 523.50 194.50" />
<path class="t" d="M 541.50 194.50 L 548.50 194.50" />
<path class="t" d="M 516.50 201.50 L 523.50 201.50" />
<path class="t" d="M 541.50 201.50 L 548.50 201.50" />
<path class="t" d="M 516.50 207.50 L 523.50 207.50" />
<path class="t" d="M 541.50 207.50 L 548.50 207.50" />
<path class="t" d="M 516.50 213.50 L 523.50 213.50" />
<path class="t" d="M 541.50 213.50 L 548.50 213.50" />
<path class="t" d="M 516.50 220.50 L 523.50 220.50" />
<path class="t" d="M 541.50 220.50 L 548.50 220.50" />
<clipPath id="c28"><path d="M 489.50 157.50 L 523.50 157.50 L 523.50 188.50 L 516.50 188.50 L 516.50 175.50 L 513.50 170.50 L 489.50 170.50 L 487.50 168.50 L 487.50 158.50 Z"/></clipPath><path d="M 489.50 157.50 L 523.50 157.50 L 523.50 188.50 L 516.50 188.50 L 516.50 175.50 L 513.50 170.50 L 489.50 170.50 L 487.50 168.50 L 487.50 158.50 Z" fill="#fff"/><path clip-path="url(#c28)" d="M486.5 153.4 L524.5 115.4 M486.5 157.0 L524.5 119.0 M486.5 160.5 L524.5 122.5 M486.5 164.0 L524.5 126.0 M486.5 167.6 L524.5 129.6 M486.5 171.1 L524.5 133.1 M486.5 174.6 L524.5 136.6 M486.5 178.2 L524.5 140.2 M486.5 181.7 L524.5 143.7 M486.5 185.3 L524.5 147.3 M486.5 188.8 L524.5 150.8 M486.5 192.3 L524.5 154.3 M486.5 195.9 L524.5 157.9 M486.5 199.4 L524.5 161.4 M486.5 202.9 L524.5 164.9 M486.5 206.5 L524.5 168.5 M486.5 210.0 L524.5 172.0 M486.5 213.5 L524.5 175.5 M486.5 217.1 L524.5 179.1 M486.5 220.6 L524.5 182.6 M486.5 224.1 L524.5 186.1" fill="none" stroke="#2e2e2e" stroke-width="0.7"/><path class="l" d="M 489.50 157.50 L 523.50 157.50 L 523.50 188.50 L 516.50 188.50 L 516.50 175.50 L 513.50 170.50 L 489.50 170.50 L 487.50 168.50 L 487.50 158.50 Z"/>
<clipPath id="c29"><path d="M 541.50 157.50 L 549.50 157.50 L 551.50 158.50 L 551.50 172.50 L 549.50 175.50 L 548.50 180.50 L 548.50 188.50 L 541.50 188.50 Z"/></clipPath><path d="M 541.50 157.50 L 549.50 157.50 L 551.50 158.50 L 551.50 172.50 L 549.50 175.50 L 548.50 180.50 L 548.50 188.50 L 541.50 188.50 Z" fill="#fff"/><path clip-path="url(#c29)" d="M540.5 156.0 L552.5 144.0 M540.5 159.5 L552.5 147.5 M540.5 163.1 L552.5 151.1 M540.5 166.6 L552.5 154.6 M540.5 170.1 L552.5 158.1 M540.5 173.7 L552.5 161.7 M540.5 177.2 L552.5 165.2 M540.5 180.7 L552.5 168.7 M540.5 184.3 L552.5 172.3 M540.5 187.8 L552.5 175.8 M540.5 191.4 L552.5 179.4 M540.5 194.9 L552.5 182.9 M540.5 198.4 L552.5 186.4" fill="none" stroke="#2e2e2e" stroke-width="0.7"/><path class="l" d="M 541.50 157.50 L 549.50 157.50 L 551.50 158.50 L 551.50 172.50 L 549.50 175.50 L 548.50 180.50 L 548.50 188.50 L 541.50 188.50 Z"/>
<path class="lw" d="M 496.50 139.50 Q 496.50 138.50 497.50 138.50 L 507.50 138.50 Q 508.50 138.50 508.50 139.50 L 508.50 147.50 L 509.50 147.50 L 509.50 218.50 L 505.50 219.50 L 505.50 223.50 L 497.50 223.50 L 497.50 219.50 L 495.50 218.50 L 495.50 147.50 L 496.50 147.50 Z" />
<path class="t" d="M 496.50 140.50 L 508.50 140.50" />
<path class="t" d="M 497.50 219.50 L 505.50 219.50" />
<path class="t" d="M 497.50 221.50 L 505.50 221.50" />
<path class="l" d="M 497.50 157.50 L 497.50 170.50" />
<path class="l" d="M 507.50 157.50 L 507.50 170.50" />
<path class="l" d="M 497.50 206.50 L 497.50 218.50" />
<path class="l" d="M 507.50 206.50 L 507.50 218.50" />
<path class="lw" d="M 491.50 156.50 L 491.50 148.50 L 492.50 147.50 L 511.50 147.50 L 513.50 148.50 L 513.50 156.50 Z" />
<path class="l" d="M 496.50 147.50 L 496.50 156.50" />
<path class="l" d="M 507.50 147.50 L 507.50 156.50" />
<path class="c2" d="M 502.50 135.50 L 502.50 231.50" />
<path class="c" d="M 481.50 183.50 L 481.50 256.50" />
<path class="c" d="M 569.50 183.50 L 569.50 256.50" />
<path class="l" d="M 561.50 109.50 C 567.50 115.50 572.50 121.50 574.50 128.50 C 577.50 135.50 578.50 141.50 577.50 146.50 C 577.50 154.50 577.50 161.50 575.50 167.50 C 574.50 173.50 570.50 180.50 565.50 185.50" />
<path class="l" d="M 557.50 122.50 C 560.50 126.50 562.50 131.50 563.50 136.50 C 564.50 141.50 565.50 146.50 565.50 150.50 C 565.50 156.50 564.50 162.50 562.50 167.50 C 560.50 172.50 557.50 176.50 552.50 178.50" />
<path class="l" d="M 559.50 169.50 L 570.50 175.50" />
<path class="t" d="M 561.12 126.33 C 563.06 129.71 564.51 133.10 565.19 136.77 C 566.26 141.80 567.23 146.15 567.23 150.99 C 567.23 156.79 566.26 162.11 564.12 167.43 C 563.06 169.84 561.89 171.78 560.63 173.71" />
<path class="l" d="M 565.43 134.94 A 3.49 3.48 0 0 1 572.32 133.77 L 575.23 150.89 A 3.49 3.48 0 0 1 568.34 152.05 Z" />
<clipPath id="c30"><path d="M 523.50 88.50 L 515.50 88.50 L 512.50 90.50 L 512.50 97.50 L 503.50 108.50 L 507.50 122.50 L 513.50 118.50 L 523.50 117.50 Z"/></clipPath><path d="M 523.50 88.50 L 515.50 88.50 L 512.50 90.50 L 512.50 97.50 L 503.50 108.50 L 507.50 122.50 L 513.50 118.50 L 523.50 117.50 Z" fill="#fff"/><path clip-path="url(#c30)" d="M502.5 85.0 L524.5 63.0 M502.5 89.3 L524.5 67.3 M502.5 93.7 L524.5 71.7 M502.5 98.1 L524.5 76.1 M502.5 102.5 L524.5 80.5 M502.5 106.9 L524.5 84.9 M502.5 111.3 L524.5 89.3 M502.5 115.7 L524.5 93.7 M502.5 120.0 L524.5 98.0 M502.5 124.4 L524.5 102.4 M502.5 128.8 L524.5 106.8 M502.5 133.2 L524.5 111.2 M502.5 137.6 L524.5 115.6 M502.5 142.0 L524.5 120.0" fill="none" stroke="#2e2e2e" stroke-width="0.7"/><path class="l" d="M 523.50 88.50 L 515.50 88.50 L 512.50 90.50 L 512.50 97.50 L 503.50 108.50 L 507.50 122.50 L 513.50 118.50 L 523.50 117.50 Z"/>
<clipPath id="c31"><path d="M 541.50 88.50 L 549.50 88.50 L 552.50 90.50 L 552.50 99.50 L 561.50 109.50 L 557.50 122.50 L 554.50 119.50 L 547.50 117.50 L 541.50 117.50 Z"/></clipPath><path d="M 541.50 88.50 L 549.50 88.50 L 552.50 90.50 L 552.50 99.50 L 561.50 109.50 L 557.50 122.50 L 554.50 119.50 L 547.50 117.50 L 541.50 117.50 Z" fill="#fff"/><path clip-path="url(#c31)" d="M540.5 86.4 L562.5 64.4 M540.5 90.8 L562.5 68.8 M540.5 95.2 L562.5 73.2 M540.5 99.6 L562.5 77.6 M540.5 104.0 L562.5 82.0 M540.5 108.3 L562.5 86.3 M540.5 112.7 L562.5 90.7 M540.5 117.1 L562.5 95.1 M540.5 121.5 L562.5 99.5 M540.5 125.9 L562.5 103.9 M540.5 130.3 L562.5 108.3 M540.5 134.6 L562.5 112.6 M540.5 139.0 L562.5 117.0 M540.5 143.4 L562.5 121.4" fill="none" stroke="#2e2e2e" stroke-width="0.7"/><path class="l" d="M 541.50 88.50 L 549.50 88.50 L 552.50 90.50 L 552.50 99.50 L 561.50 109.50 L 557.50 122.50 L 554.50 119.50 L 547.50 117.50 L 541.50 117.50 Z"/>
<path class="lw" d="M 525.50 71.50 L 525.50 76.50 L 523.50 76.50 L 523.50 139.50 L 525.50 141.50 L 525.50 145.50 L 523.50 147.50 L 523.50 272.50 L 541.50 272.50 L 541.50 147.50 L 539.50 145.50 L 539.50 141.50 L 541.50 139.50 L 541.50 76.50 L 539.50 76.50 L 539.50 71.50 Z" />
<path class="l" d="M 523.50 76.50 L 541.50 76.50" />
<path class="t" d="M 526.50 76.50 L 526.50 139.50" />
<path class="t" d="M 538.50 76.50 L 538.50 139.50" />
<path class="t" d="M 523.50 139.50 L 541.50 139.50" />
<path class="t" d="M 525.50 141.50 L 539.50 141.50" />
<path class="t" d="M 525.50 145.50 L 539.50 145.50" />
<path class="t" d="M 523.50 147.50 L 541.50 147.50" />
<path class="dash" d="M 481.50 40.50 C 482.50 36.50 484.50 34.50 487.50 34.50 L 577.50 34.50 C 581.50 34.50 582.50 36.50 583.50 40.50" />
<path class="l" d="M 501.50 46.50 L 512.50 52.50 L 525.50 52.50" />
<path class="t" d="M 501.50 50.50 L 520.50 58.50" />
<path class="l" d="M 499.50 56.50 L 521.50 69.50" />
<path class="l" d="M 563.50 46.50 L 552.50 52.50 L 539.50 52.50" />
<path class="t" d="M 563.50 50.50 L 544.50 58.50" />
<path class="l" d="M 565.50 56.50 L 543.50 69.50" />
<path class="l" d="M 479.50 41.50 L 584.50 41.50" />
<path class="l" d="M 479.50 43.50 L 584.50 43.50" />
<clipPath id="c32"><path d="M 481.67 51.00 A 9.80 7.64 0 0 1 501.27 51.00 A 9.80 7.64 0 0 1 481.67 51.00 Z"/></clipPath><path d="M 481.67 51.00 A 9.80 7.64 0 0 1 501.27 51.00 A 9.80 7.64 0 0 1 481.67 51.00 Z" fill="#fff"/><path clip-path="url(#c32)" d="M479.8 38.8 L503.1 15.5 M479.8 41.5 L503.1 18.1 M479.8 44.2 L503.1 20.8 M479.8 46.9 L503.1 23.5 M479.8 49.5 L503.1 26.2 M479.8 52.2 L503.1 28.9 M479.8 54.9 L503.1 31.6 M479.8 57.6 L503.1 34.3 M479.8 60.3 L503.1 36.9 M479.8 63.0 L503.1 39.6 M479.8 65.7 L503.1 42.3 M479.8 68.4 L503.1 45.0 M479.8 71.0 L503.1 47.7 M479.8 73.7 L503.1 50.4 M479.8 76.4 L503.1 53.1 M479.8 79.1 L503.1 55.8 M479.8 81.8 L503.1 58.4" fill="none" stroke="#2e2e2e" stroke-width="0.5"/><path class="l" d="M 481.67 51.00 A 9.80 7.64 0 0 1 501.27 51.00 A 9.80 7.64 0 0 1 481.67 51.00 Z"/>
<path class="c" d="M 479.50 50.50 L 503.50 50.50" />
<path class="c" d="M 490.50 41.50 L 490.50 59.50" />
<clipPath id="c33"><path d="M 563.73 51.00 A 9.80 7.64 0 0 1 583.33 51.00 A 9.80 7.64 0 0 1 563.73 51.00 Z"/></clipPath><path d="M 563.73 51.00 A 9.80 7.64 0 0 1 583.33 51.00 A 9.80 7.64 0 0 1 563.73 51.00 Z" fill="#fff"/><path clip-path="url(#c33)" d="M561.9 40.0 L585.2 16.7 M561.9 42.7 L585.2 19.4 M561.9 45.4 L585.2 22.1 M561.9 48.1 L585.2 24.7 M561.9 50.8 L585.2 27.4 M561.9 53.5 L585.2 30.1 M561.9 56.2 L585.2 32.8 M561.9 58.8 L585.2 35.5 M561.9 61.5 L585.2 38.2 M561.9 64.2 L585.2 40.9 M561.9 66.9 L585.2 43.6 M561.9 69.6 L585.2 46.2 M561.9 72.3 L585.2 48.9 M561.9 75.0 L585.2 51.6 M561.9 77.6 L585.2 54.3 M561.9 80.3 L585.2 57.0 M561.9 83.0 L585.2 59.7" fill="none" stroke="#2e2e2e" stroke-width="0.5"/><path class="l" d="M 563.73 51.00 A 9.80 7.64 0 0 1 583.33 51.00 A 9.80 7.64 0 0 1 563.73 51.00 Z"/>
<path class="c" d="M 561.50 50.50 L 585.50 50.50" />
<path class="c" d="M 572.50 41.50 L 572.50 59.50" />
<path class="lw" d="M 524.50 55.50 L 540.50 55.50 C 546.50 57.50 546.50 69.50 540.50 71.50 L 524.50 71.50 C 518.50 69.50 518.50 57.50 524.50 55.50 Z" />
<clipPath id="c34"><path d="M 524.50 55.50 C 518.50 57.50 518.50 69.50 524.50 71.50 L 526.50 71.50 L 526.50 55.50 Z"/></clipPath><path d="M 524.50 55.50 C 518.50 57.50 518.50 69.50 524.50 71.50 L 526.50 71.50 L 526.50 55.50 Z" fill="#fff"/><path clip-path="url(#c34)" d="M517.5 52.7 L527.5 42.7 M517.5 55.0 L527.5 45.0 M517.5 57.2 L527.5 47.2 M517.5 59.5 L527.5 49.5 M517.5 61.8 L527.5 51.8 M517.5 64.0 L527.5 54.0 M517.5 66.3 L527.5 56.3 M517.5 68.6 L527.5 58.6 M517.5 70.8 L527.5 60.8 M517.5 73.1 L527.5 63.1 M517.5 75.3 L527.5 65.3 M517.5 77.6 L527.5 67.6 M517.5 79.9 L527.5 69.9 M517.5 82.1 L527.5 72.1" fill="none" stroke="#2e2e2e" stroke-width="0.45"/><path class="l" d="M 524.50 55.50 C 518.50 57.50 518.50 69.50 524.50 71.50 L 526.50 71.50 L 526.50 55.50 Z"/>
<clipPath id="c35"><path d="M 540.50 55.50 C 546.50 57.50 546.50 69.50 540.50 71.50 L 538.50 71.50 L 538.50 55.50 Z"/></clipPath><path d="M 540.50 55.50 C 546.50 57.50 546.50 69.50 540.50 71.50 L 538.50 71.50 L 538.50 55.50 Z" fill="#fff"/><path clip-path="url(#c35)" d="M537.5 53.1 L547.5 43.1 M537.5 55.3 L547.5 45.3 M537.5 57.6 L547.5 47.6 M537.5 59.9 L547.5 49.9 M537.5 62.1 L547.5 52.1 M537.5 64.4 L547.5 54.4 M537.5 66.7 L547.5 56.7 M537.5 68.9 L547.5 58.9 M537.5 71.2 L547.5 61.2 M537.5 73.4 L547.5 63.4 M537.5 75.7 L547.5 65.7 M537.5 78.0 L547.5 68.0 M537.5 80.2 L547.5 70.2 M537.5 82.5 L547.5 72.5" fill="none" stroke="#2e2e2e" stroke-width="0.45"/><path class="l" d="M 540.50 55.50 C 546.50 57.50 546.50 69.50 540.50 71.50 L 538.50 71.50 L 538.50 55.50 Z"/>
<path class="t" d="M 526.50 55.50 L 531.50 71.50 M 531.50 55.50 L 526.50 71.50 M 533.50 55.50 L 538.50 71.50 M 538.50 55.50 L 533.50 71.50 M 531.50 56.50 Q 529.50 63.50 531.50 70.50 M 533.50 56.50 Q 535.50 63.50 533.50 70.50" />
<path class="lw" d="M 528.50 48.50 L 528.50 44.50 Q 528.50 42.50 530.50 42.50 L 534.50 42.50 Q 536.50 42.50 536.50 44.50 L 536.50 48.50" />
<path class="lw" d="M 525.50 55.50 L 525.50 49.50 L 526.50 48.50 L 538.50 48.50 L 539.50 49.50 L 539.50 55.50 Z" />
<path class="l" d="M 528.50 48.50 L 528.50 55.50" />
<path class="l" d="M 536.50 48.50 L 536.50 55.50" />
<path class="t" d="M 517.50 50.50 L 524.50 50.50" />
<path class="t" d="M 540.50 50.50 L 547.50 50.50" />
<path class="c" d="M 532.50 38.50 L 532.50 245.50" />
<path class="d" d="M 482.50 24.50 L 482.50 43.50" />
<path class="d" d="M 582.50 24.50 L 582.50 43.50" />
<path class="d" d="M 482.50 28.50 L 582.50 28.50" /><path class="ar" d="M482.9 28.3 L488.09999999999997 27.3 L488.09999999999997 29.3 Z M582.9 28.3 L577.6999999999999 27.3 L577.6999999999999 29.3 Z" />
<g transform="translate(533.1,26.9) rotate(0)"><path class="gt" transform="translate(-4.60,-8.40)" d="M 0.00 0.00 V 8.40 H 1.56 Q 3.91 8.40 3.91 5.88 V 2.52 Q 3.91 0.00 1.56 0.00 Z"/><path class="gt" transform="translate(0.69,-8.40)" d="M 1.95 0.00 Q 3.91 0.00 3.91 2.52 V 5.88 Q 3.91 8.40 1.95 8.40 Q 0.00 8.40 0.00 5.88 V 2.52 Q 0.00 0.00 1.95 0.00 Z"/></g>
<path class="d" d="M 578.50 35.50 L 624.50 35.50" />
<path class="d" d="M 621.50 35.50 L 621.50 287.50" /><path class="ar" d="M621.7 35 L620.7 40.2 L622.7 40.2 Z M621.7 287 L620.7 281.8 L622.7 281.8 Z" />
<path class="d" d="M 621.50 287.50 L 621.50 386.50" /><path class="ar" d="M621.7 287 L620.7 292.2 L622.7 292.2 Z M621.7 386.7 L620.7 381.5 L622.7 381.5 Z" />
<path class="d" d="M 598.50 386.50 L 630.50 386.50" />
<g transform="translate(620.0,161.2) rotate(-90)"><path class="gt" transform="translate(-3.08,-10.70)" d="M 0.00 0.00 V 10.70 M 6.15 0.00 V 10.70 M 0.00 5.35 H 6.15"/></g>
<g transform="translate(620.0,342.8) rotate(-90)"><path class="gt" transform="translate(0.00,-10.70)" d="M 0.00 0.00 V 10.70 M 5.62 0.00 V 10.70 M 0.00 5.35 H 5.62"/><path class="gt" transform="translate(5.88,-10.70)" d="M 1.12 2.14 L 3.37 0.00 V 10.70"/></g>
<path class="d" d="M 384.50 221.50 L 433.50 221.50" />
<path class="d" d="M 384.50 353.50 L 433.50 353.50" />
<path class="d" d="M 386.50 221.50 L 386.50 353.50" /><path class="ar" d="M386.2 221.3 L385.2 226.5 L387.2 226.5 Z M386.2 353 L385.2 347.8 L387.2 347.8 Z" />
<path class="d" d="M 405.50 241.50 L 454.50 241.50" />
<path class="d" d="M 405.50 332.50 L 453.50 332.50" />
<path class="d" d="M 408.50 241.50 L 408.50 332.50" /><path class="ar" d="M408 241.5 L407.0 246.7 L409.0 246.7 Z M408 332.8 L407.0 327.6 L409.0 327.6 Z" />
<path class="d" d="M 423.50 272.50 L 433.50 272.50" />
<path class="d" d="M 423.50 303.50 L 433.50 303.50" />
<path class="d" d="M 426.50 272.50 L 426.50 303.50" /><path class="ar" d="M426 272.1 L425.0 277.3 L427.0 277.3 Z M426 303.9 L425.0 298.7 L427.0 298.7 Z" />
<g transform="translate(384.9,286.9) rotate(-90)"><path class="gt" transform="translate(-2.94,-10.70)" d="M 0.00 0.00 V 10.70 H 2.35 Q 5.88 10.70 5.88 7.49 V 3.21 Q 5.88 0.00 2.35 0.00 Z"/></g>
<g transform="translate(406.8,287.4) rotate(-90)"><path class="gt" transform="translate(-3.02,-11.50)" d="M 6.04 3.11 Q 6.04 0.00 3.02 0.00 Q 0.00 0.00 0.00 3.11 V 8.39 Q 0.00 11.50 3.02 11.50 Q 6.04 11.50 6.04 8.39"/></g>
<g transform="translate(424.9,285.8) rotate(-90)"><path class="gt" transform="translate(-6.93,-11.00)" d="M 0.00 0.00 V 11.00 H 2.42 Q 6.05 11.00 6.05 7.70 V 3.30 Q 6.05 0.00 2.42 0.00 Z"/><path class="gt" transform="translate(0.88,-11.00)" d="M 0.00 11.00 V 0.00 L 6.05 11.00 V 0.00"/></g>
<path class="d" d="M 433.50 353.50 L 433.50 412.50" />
<path class="d" d="M 433.50 408.50 L 532.50 408.50" /><path class="ar" d="M433 408.2 L438.2 407.2 L438.2 409.2 Z M532.5 408.2 L527.3 407.2 L527.3 409.2 Z" />
<g transform="translate(481.4,406.1) rotate(0)"><path class="gt" transform="translate(-2.75,-10.20)" d="M 0.00 0.00 V 10.20 H 5.51"/></g>
<path class="d" d="M 444.50 363.50 L 505.50 363.50" />
<path class="d" d="M 478.50 360.50 L 478.50 371.50" />
<path class="d" d="M 495.50 360.50 L 495.50 371.50" />
<path class="ar" d="M478.3 363.6 L473.1 362.6 L473.1 364.6 Z M495.6 363.6 L500.8 362.6 L500.8 364.6 Z" />
<g transform="translate(456.8,360.9) rotate(0)"><path class="gt" transform="translate(-11.42,-8.70)" d="M 0.00 3.04 V 8.70 M 0.00 5.05 Q 0.50 3.04 3.28 3.04 Q 6.31 3.04 6.31 5.22 V 8.70"/><path class="gt" transform="translate(-3.15,-8.70)" d="M 0.63 5.39 H 6.31"/><path class="gt" transform="translate(5.11,-8.70)" d="M 6.31 0.00 V 8.70 M 6.31 5.05 Q 5.80 3.04 3.15 3.04 Q 0.00 3.04 0.00 5.22 V 6.52 Q 0.00 8.70 3.15 8.70 Q 5.80 8.70 6.31 6.79"/></g>
<path class="d" d="M 430.50 255.50 L 437.50 255.50 M 430.50 261.50 L 437.50 261.50 M 430.50 313.50 L 437.50 313.50 M 430.50 318.50 L 437.50 318.50" />
<path class="d" d="M 501.50 382.50 L 501.50 390.50 M 505.50 382.50 L 505.50 390.50 M 499.50 385.50 L 507.50 385.50" />
<path class="d" d="M 560.50 382.50 L 560.50 390.50 M 563.50 382.50 L 563.50 390.50 M 558.50 385.50 L 565.50 385.50" />
</g>
<g transform="translate(143.2,445.7) rotate(0)"><path class="big" transform="translate(0.00,-19.60)" d="M 0.00 19.60 L 4.75 0.00 L 9.51 19.60 M 1.71 12.94 H 7.79"/></g>
<g transform="translate(159.9,444.8) rotate(0)"><path class="big" transform="translate(0.00,-18.70)" d="M 7.51 4.49 Q 7.51 0.00 3.83 0.00 Q 0.15 0.00 0.15 4.49 Q 0.15 7.85 3.83 9.35 Q 7.67 10.85 7.67 14.21 Q 7.67 18.70 3.83 18.70 Q 0.00 18.70 0.00 14.21"/></g>
<path class="big2" d="M172.20 426.31 L184.36 426.31 M171.10 433.08 L185.69 433.08 M176.40 426.31 L176.40 433.73 Q176.18 436.74 172.43 438.25 M180.82 426.31 L180.82 438.25 M187.90 426.42 L187.90 435.45 M191.65 424.70 L191.65 437.60 Q191.65 439.11 189.00 438.89 M173.75 440.82 L190.99 440.82 M182.37 438.03 L182.37 445.34 M171.10 445.34 L193.20 445.34" />
<g transform="translate(515.5,444.8) rotate(0)"><path class="big" transform="translate(0.00,-18.70)" d="M 0.00 0.00 V 18.70 H 3.50 Q 7.29 18.70 7.29 13.84 Q 7.29 9.35 3.50 9.35 H 0.00 M 3.50 9.35 Q 6.86 9.35 6.86 4.67 Q 6.86 0.00 3.50 0.00 H 0.00"/></g>
<g transform="translate(531.0,444.8) rotate(0)"><path class="big" transform="translate(0.00,-18.70)" d="M 7.79 4.49 Q 7.79 0.00 3.97 0.00 Q 0.16 0.00 0.16 4.49 Q 0.16 7.85 3.97 9.35 Q 7.95 10.85 7.95 14.21 Q 7.95 18.70 3.97 18.70 Q 0.00 18.70 0.00 14.21"/></g>
<path class="big2" d="M543.30 426.33 L555.40 426.33 M542.20 433.16 L556.72 433.16 M547.48 426.33 L547.48 433.81 Q547.26 436.85 543.52 438.37 M551.88 426.33 L551.88 438.37 M558.92 426.44 L558.92 435.55 M562.66 424.70 L562.66 437.72 Q562.66 439.24 560.02 439.02 M544.84 440.97 L562.00 440.97 M553.42 438.15 L553.42 445.53 M542.20 445.53 L564.20 445.53" /></svg></body></html>
